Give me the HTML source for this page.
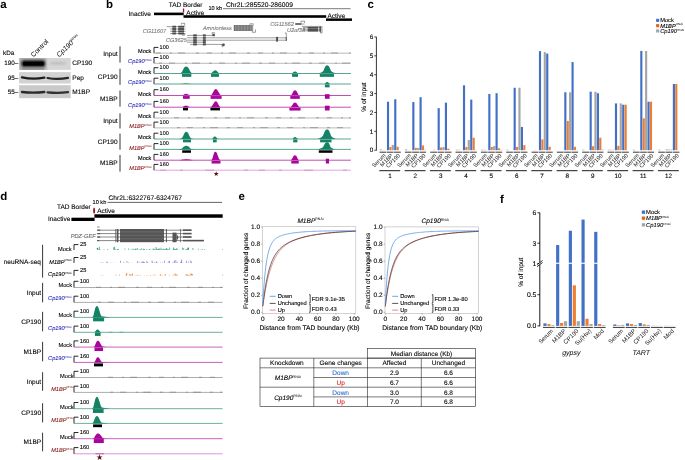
<!DOCTYPE html><html><head><meta charset="utf-8"><title>Figure</title>
<style>html,body{margin:0;padding:0;background:#fff;}svg{display:block;font-family:'Liberation Sans', Arial, sans-serif;text-rendering:geometricPrecision;will-change:transform;}text{stroke-width:.1px;}</style></head><body>
<svg width="685" height="460" viewBox="0 0 685 460">
<defs><filter id="bl" filterUnits="userSpaceOnUse" x="0" y="40" width="100" height="80"><feGaussianBlur stdDeviation="0.9"/></filter>
<filter id="bl2" filterUnits="userSpaceOnUse" x="0" y="40" width="100" height="80"><feGaussianBlur stdDeviation="0.75"/></filter>
<clipPath id="c1"><rect x="19.1" y="58" width="51.6" height="11.9"/></clipPath>
<clipPath id="c2"><rect x="19.1" y="72.1" width="51.6" height="11.4"/></clipPath>
<clipPath id="c3"><rect x="19.1" y="85.2" width="51.6" height="13"/></clipPath>
</defs>
<rect width="685" height="460" fill="#fff"/>
<g id="panelA">
<text x="0.30" y="8.00" font-size="11.50" font-weight="bold" fill="#000">a</text>
<text x="3.00" y="55.26" font-size="6.30" text-anchor="start" fill="#000" stroke="#000" >kDa</text>
<text x="18.30" y="64.86" font-size="6.30" text-anchor="end" fill="#000" stroke="#000" >190–</text>
<text x="18.30" y="80.16" font-size="6.30" text-anchor="end" fill="#000" stroke="#000" >95–</text>
<text x="18.30" y="93.86" font-size="6.30" text-anchor="end" fill="#000" stroke="#000" >55–</text>
<text x="72.30" y="65.33" font-size="6.50" text-anchor="start" fill="#000" stroke="#000" >CP190</text>
<text x="72.30" y="80.33" font-size="6.50" text-anchor="start" fill="#000" stroke="#000" >Pep</text>
<text x="72.30" y="94.03" font-size="6.50" text-anchor="start" fill="#000" stroke="#000" >M1BP</text>
<text x="33.5" y="57.5" font-size="6.75" transform="rotate(-45 33.5 57.5)">Control</text>
<text x="59.3" y="57.6" font-size="6.9" font-style="italic" transform="rotate(-45 59.3 57.6)">Cp190<tspan dy="-2.5" font-size="3.7" font-style="normal">RNAi</tspan></text>
<rect x="19.10" y="58.00" width="51.60" height="11.90" fill="#d6d6d6" />
<g clip-path="url(#c1)">
<rect x="19.10" y="57.00" width="27.40" height="14.00" fill="#aaaaaa" filter="url(#bl)"/>
<rect x="21.6" y="60.4" width="23.4" height="6.3" rx="2.2" fill="#0a0a0a" filter="url(#bl)"/>
<rect x="23" y="61.8" width="21" height="3.8" rx="1.5" fill="#000" filter="url(#bl2)"/>
<rect x="22" y="68.3" width="22" height="1.2" fill="#888" filter="url(#bl2)"/>
<ellipse cx="58" cy="63.2" rx="9" ry="1.4" fill="#bcbcbc" filter="url(#bl)"/>
</g>
<rect x="19.10" y="72.10" width="51.60" height="11.40" fill="#d2d2d2" />
<g clip-path="url(#c2)">
<path d="M22 77.3 Q33 79.6 44.3 77.6" stroke="#1c1c1c" stroke-width="2.3" fill="none" filter="url(#bl2)" stroke-linecap="round"/>
<path d="M47.5 78 Q58 79.8 68 77.8" stroke="#262626" stroke-width="2.2" fill="none" filter="url(#bl2)" stroke-linecap="round"/>
</g>
<rect x="19.10" y="85.20" width="51.60" height="13.00" fill="#cacaca" />
<g clip-path="url(#c3)">
<path d="M22 92 Q33 93.3 44.3 92" stroke="#2a2a2a" stroke-width="2.3" fill="none" filter="url(#bl2)" stroke-linecap="round"/>
<path d="M47.5 92.4 Q58 93.5 68 92.2" stroke="#303030" stroke-width="2.2" fill="none" filter="url(#bl2)" stroke-linecap="round"/>
</g>
</g>
<g id="panelB">
<text x="106.10" y="8.00" font-size="11.50" font-weight="bold" fill="#000">b</text>
<text x="168.70" y="7.03" font-size="6.50" text-anchor="start" fill="#000" stroke="#000" >TAD Border</text>
<text x="128.50" y="16.13" font-size="6.50" text-anchor="start" fill="#000" stroke="#000" >Inactive</text>
<rect x="154.00" y="12.60" width="29.70" height="2.60" fill="#000" />
<rect x="182.90" y="8.50" width="1.30" height="4.00" fill="#a8101c" />
<rect x="183.50" y="15.20" width="142.70" height="2.60" fill="#000" />
<text x="186.30" y="14.73" font-size="6.50" text-anchor="start" fill="#000" stroke="#000" >Active</text>
<text x="208.50" y="10.30" font-size="5.60" text-anchor="start" fill="#000" stroke="#000" >10 kb</text>
<line x1="223.00" y1="8.70" x2="350.60" y2="8.70" stroke="#222" stroke-width="0.60" />
<text x="226.00" y="6.60" font-size="6.70" text-anchor="start" fill="#000" stroke="#000" >Chr2L:285520-286009</text>
<text x="327.40" y="17.63" font-size="6.50" text-anchor="start" fill="#000" stroke="#000" >Active</text>
<rect x="326.00" y="18.40" width="26.00" height="2.50" fill="#000" />
<text x="166.20" y="32.50" font-size="5.60" text-anchor="end" fill="#7c7c7c" stroke="#7c7c7c" font-style="italic" >CG11607</text>
<line x1="166.60" y1="26.70" x2="185.50" y2="26.70" stroke="#4c4c4c" stroke-width="0.55" />
<rect x="172.30" y="25.75" width="3.80" height="1.90" fill="#4c4c4c" />
<rect x="178.20" y="25.75" width="5.80" height="1.90" fill="#4c4c4c" />
<line x1="170.20" y1="29.00" x2="185.50" y2="29.00" stroke="#4c4c4c" stroke-width="0.55" />
<rect x="172.30" y="28.05" width="3.80" height="1.90" fill="#4c4c4c" />
<rect x="178.20" y="28.05" width="5.80" height="1.90" fill="#4c4c4c" />
<line x1="170.20" y1="31.30" x2="185.50" y2="31.30" stroke="#4c4c4c" stroke-width="0.55" />
<rect x="172.30" y="30.35" width="3.80" height="1.90" fill="#4c4c4c" />
<rect x="178.20" y="30.35" width="5.80" height="1.90" fill="#4c4c4c" />
<line x1="170.20" y1="33.50" x2="185.50" y2="33.50" stroke="#4c4c4c" stroke-width="0.55" />
<rect x="172.30" y="32.55" width="3.80" height="1.90" fill="#4c4c4c" />
<rect x="178.20" y="32.55" width="5.80" height="1.90" fill="#4c4c4c" />
<path d="M181.5 24.6 V23.3 H184.6 V25.6" fill="none" stroke="#4c4c4c" stroke-width="0.55" />
<path d="M182.2 34.4 V35.2 H184.6 V33.8" fill="none" stroke="#4c4c4c" stroke-width="0.55" />
<text x="186.80" y="42.30" font-size="5.60" text-anchor="end" fill="#7c7c7c" stroke="#7c7c7c" font-style="italic" >CG3625</text>
<line x1="187.10" y1="35.40" x2="214.60" y2="35.40" stroke="#4c4c4c" stroke-width="0.55" />
<rect x="193.20" y="34.40" width="3.60" height="2.00" fill="#4c4c4c" />
<rect x="202.90" y="34.40" width="2.90" height="2.00" fill="#4c4c4c" />
<line x1="187.10" y1="37.80" x2="286.40" y2="37.80" stroke="#4c4c4c" stroke-width="0.55" />
<rect x="193.20" y="36.80" width="3.60" height="2.00" fill="#4c4c4c" />
<rect x="202.90" y="36.80" width="2.90" height="2.00" fill="#4c4c4c" />
<line x1="187.10" y1="40.20" x2="286.40" y2="40.20" stroke="#4c4c4c" stroke-width="0.55" />
<rect x="193.20" y="39.20" width="3.60" height="2.00" fill="#4c4c4c" />
<rect x="202.90" y="39.20" width="2.90" height="2.00" fill="#4c4c4c" />
<line x1="187.10" y1="42.20" x2="205.80" y2="42.20" stroke="#4c4c4c" stroke-width="0.55" />
<rect x="193.20" y="41.20" width="3.60" height="2.00" fill="#4c4c4c" />
<rect x="202.90" y="41.20" width="2.90" height="2.00" fill="#4c4c4c" />
<line x1="190.10" y1="44.40" x2="224.40" y2="44.40" stroke="#4c4c4c" stroke-width="0.55" />
<rect x="193.20" y="43.40" width="3.60" height="2.00" fill="#4c4c4c" />
<rect x="202.90" y="43.40" width="2.90" height="2.00" fill="#4c4c4c" />
<rect x="212.40" y="33.80" width="2.40" height="2.40" fill="#4c4c4c" />
<path d="M212 33.9 V32.7 H215" fill="none" stroke="#4c4c4c" stroke-width="0.55" />
<rect x="222.40" y="43.60" width="2.20" height="2.40" fill="#4c4c4c" />
<path d="M222 44 V46.6 H223.4" fill="none" stroke="#4c4c4c" stroke-width="0.55" />
<rect x="276.10" y="36.90" width="1.90" height="4.70" fill="#4c4c4c" />
<path d="M286.3 37.8 V33 H284.6" fill="none" stroke="#4c4c4c" stroke-width="0.55" />
<rect x="285.70" y="37.20" width="1.10" height="3.70" fill="#4c4c4c" />
<text x="231.80" y="30.10" font-size="5.60" text-anchor="end" fill="#7c7c7c" stroke="#7c7c7c" font-style="italic" >Amnionless</text>
<line x1="233.40" y1="26.00" x2="253.40" y2="26.00" stroke="#4c4c4c" stroke-width="0.55" />
<rect x="234.00" y="25.15" width="18.60" height="1.70" fill="#4c4c4c" fill-opacity="0.92"/>
<line x1="233.40" y1="28.00" x2="253.40" y2="28.00" stroke="#4c4c4c" stroke-width="0.55" />
<rect x="234.00" y="27.15" width="18.60" height="1.70" fill="#4c4c4c" fill-opacity="0.92"/>
<line x1="233.40" y1="30.00" x2="253.40" y2="30.00" stroke="#4c4c4c" stroke-width="0.55" />
<rect x="234.00" y="29.15" width="18.60" height="1.70" fill="#4c4c4c" fill-opacity="0.92"/>
<line x1="235.40" y1="25.20" x2="235.40" y2="30.80" stroke="#fff" stroke-width="0.30" />
<line x1="236.90" y1="25.20" x2="236.90" y2="30.80" stroke="#fff" stroke-width="0.30" />
<line x1="238.40" y1="25.20" x2="238.40" y2="30.80" stroke="#fff" stroke-width="0.30" />
<line x1="239.90" y1="25.20" x2="239.90" y2="30.80" stroke="#fff" stroke-width="0.30" />
<line x1="241.40" y1="25.20" x2="241.40" y2="30.80" stroke="#fff" stroke-width="0.30" />
<line x1="242.90" y1="25.20" x2="242.90" y2="30.80" stroke="#fff" stroke-width="0.30" />
<line x1="244.40" y1="25.20" x2="244.40" y2="30.80" stroke="#fff" stroke-width="0.30" />
<line x1="245.90" y1="25.20" x2="245.90" y2="30.80" stroke="#fff" stroke-width="0.30" />
<line x1="247.40" y1="25.20" x2="247.40" y2="30.80" stroke="#fff" stroke-width="0.30" />
<line x1="248.90" y1="25.20" x2="248.90" y2="30.80" stroke="#fff" stroke-width="0.30" />
<line x1="250.40" y1="25.20" x2="250.40" y2="30.80" stroke="#fff" stroke-width="0.30" />
<line x1="251.90" y1="25.20" x2="251.90" y2="30.80" stroke="#fff" stroke-width="0.30" />
<path d="M249.9 24.9 V23.8 H253.2 V25.4" fill="none" stroke="#4c4c4c" stroke-width="0.55" />
<path d="M252.4 31 V32.3 H255.4 V29.4" fill="none" stroke="#4c4c4c" stroke-width="0.55" />
<text x="293.80" y="26.10" font-size="5.60" text-anchor="end" fill="#7c7c7c" stroke="#7c7c7c" font-style="italic" >CG11562</text>
<line x1="295.30" y1="24.00" x2="304.50" y2="24.00" stroke="#4c4c4c" stroke-width="0.55" />
<rect x="295.30" y="23.30" width="6.00" height="1.40" fill="#4c4c4c" />
<path d="M301 22.9 V21.2 H304.6 V23" fill="none" stroke="#4c4c4c" stroke-width="0.55" />
<text x="305.00" y="32.10" font-size="5.60" text-anchor="end" fill="#7c7c7c" stroke="#7c7c7c" font-style="italic" >U2af38</text>
<line x1="303.00" y1="27.60" x2="321.40" y2="27.60" stroke="#4c4c4c" stroke-width="0.55" />
<rect x="307.70" y="26.85" width="10.40" height="1.50" fill="#4c4c4c" />
<rect x="319.40" y="26.85" width="1.60" height="1.50" fill="#4c4c4c" />
<line x1="303.00" y1="29.20" x2="321.40" y2="29.20" stroke="#4c4c4c" stroke-width="0.55" />
<rect x="307.70" y="28.45" width="10.40" height="1.50" fill="#4c4c4c" />
<rect x="319.40" y="28.45" width="1.60" height="1.50" fill="#4c4c4c" />
<line x1="303.00" y1="30.80" x2="321.40" y2="30.80" stroke="#4c4c4c" stroke-width="0.55" />
<rect x="307.70" y="30.05" width="10.40" height="1.50" fill="#4c4c4c" />
<rect x="319.40" y="30.05" width="1.60" height="1.50" fill="#4c4c4c" />
<line x1="301.80" y1="26.40" x2="321.40" y2="26.40" stroke="#4c4c4c" stroke-width="0.55" />
<path d="M320.4 26.2 V33 H322 V26.2" fill="none" stroke="#4c4c4c" stroke-width="0.55" />
<path d="M154.00 53.20 V47.40 H158.40" fill="none" stroke="#000" stroke-width="0.85" />
<text x="159.60" y="48.97" font-size="5.50" text-anchor="start" fill="#000" stroke="#000" >100</text>
<text x="151.40" y="53.20" font-size="5.60" text-anchor="end" fill="#000" stroke="#000" >Mock</text>
<line x1="154.00" y1="53.20" x2="350.90" y2="53.20" stroke="#777" stroke-width="0.60" stroke-opacity="0.85"/>
<line x1="156.00" y1="52.95" x2="350.90" y2="52.95" stroke="#666" stroke-width="0.50" stroke-dasharray="5 9 2 6 7 11 3 8"/>
<path d="M154.00 63.30 V57.50 H158.40" fill="none" stroke="#000" stroke-width="0.85" />
<text x="159.60" y="59.07" font-size="5.50" text-anchor="start" fill="#000" stroke="#000" >100</text>
<text x="151.60" y="63.40" font-size="5.60" text-anchor="end" fill="#2a2ab8" stroke="#2a2ab8" font-style="italic" >Cp190<tspan dy="-2.02" font-size="3.00" font-style="normal" stroke="none">RNAi</tspan></text>
<line x1="154.00" y1="63.30" x2="350.90" y2="63.30" stroke="#777" stroke-width="0.60" stroke-opacity="0.85"/>
<line x1="159.00" y1="63.05" x2="350.90" y2="63.05" stroke="#666" stroke-width="0.50" stroke-dasharray="3 7 6 10 2 5 8 9"/>
<path d="M154.00 73.50 V67.70 H158.40" fill="none" stroke="#000" stroke-width="0.85" />
<text x="159.60" y="69.27" font-size="5.50" text-anchor="start" fill="#000" stroke="#000" >100</text>
<text x="151.40" y="73.50" font-size="5.60" text-anchor="end" fill="#000" stroke="#000" >Mock</text>
<line x1="154.00" y1="73.50" x2="350.90" y2="73.50" stroke="#148264" stroke-width="0.75" stroke-opacity="0.95"/>
<path d="M154.00 84.00 V78.20 H158.40" fill="none" stroke="#000" stroke-width="0.85" />
<text x="159.60" y="79.77" font-size="5.50" text-anchor="start" fill="#000" stroke="#000" >100</text>
<text x="151.60" y="84.10" font-size="5.60" text-anchor="end" fill="#2a2ab8" stroke="#2a2ab8" font-style="italic" >Cp190<tspan dy="-2.02" font-size="3.00" font-style="normal" stroke="none">RNAi</tspan></text>
<line x1="154.00" y1="84.00" x2="350.90" y2="84.00" stroke="#148264" stroke-width="0.75" stroke-opacity="0.95"/>
<path d="M154.00 95.50 V89.70 H158.40" fill="none" stroke="#000" stroke-width="0.85" />
<text x="159.60" y="91.27" font-size="5.50" text-anchor="start" fill="#000" stroke="#000" >160</text>
<text x="151.40" y="95.50" font-size="5.60" text-anchor="end" fill="#000" stroke="#000" >Mock</text>
<line x1="154.00" y1="95.50" x2="350.90" y2="95.50" stroke="#a8059a" stroke-width="0.75" stroke-opacity="0.95"/>
<path d="M154.00 107.20 V101.40 H158.40" fill="none" stroke="#000" stroke-width="0.85" />
<text x="159.60" y="102.97" font-size="5.50" text-anchor="start" fill="#000" stroke="#000" >160</text>
<text x="151.60" y="107.30" font-size="5.60" text-anchor="end" fill="#2a2ab8" stroke="#2a2ab8" font-style="italic" >Cp190<tspan dy="-2.02" font-size="3.00" font-style="normal" stroke="none">RNAi</tspan></text>
<line x1="154.00" y1="107.20" x2="350.90" y2="107.20" stroke="#a8059a" stroke-width="0.75" stroke-opacity="0.95"/>
<path d="M154.00 118.00 V112.20 H158.40" fill="none" stroke="#000" stroke-width="0.85" />
<text x="159.60" y="113.77" font-size="5.50" text-anchor="start" fill="#000" stroke="#000" >100</text>
<text x="151.40" y="118.00" font-size="5.60" text-anchor="end" fill="#000" stroke="#000" >Mock</text>
<line x1="154.00" y1="118.00" x2="350.90" y2="118.00" stroke="#777" stroke-width="0.60" stroke-opacity="0.85"/>
<line x1="174.00" y1="117.75" x2="350.90" y2="117.75" stroke="#666" stroke-width="0.50" stroke-dasharray="5 9 2 6 7 11 3 8"/>
<path d="M154.00 127.90 V122.10 H158.40" fill="none" stroke="#000" stroke-width="0.85" />
<text x="159.60" y="123.67" font-size="5.50" text-anchor="start" fill="#000" stroke="#000" >100</text>
<text x="151.60" y="128.00" font-size="5.60" text-anchor="end" fill="#8a1a1a" stroke="#8a1a1a" font-style="italic" >M1BP<tspan dy="-2.02" font-size="3.00" font-style="normal" stroke="none">RNAi</tspan></text>
<line x1="154.00" y1="127.90" x2="350.90" y2="127.90" stroke="#777" stroke-width="0.60" stroke-opacity="0.85"/>
<line x1="177.00" y1="127.65" x2="350.90" y2="127.65" stroke="#666" stroke-width="0.50" stroke-dasharray="3 7 6 10 2 5 8 9"/>
<path d="M154.00 139.00 V133.20 H158.40" fill="none" stroke="#000" stroke-width="0.85" />
<text x="159.60" y="134.77" font-size="5.50" text-anchor="start" fill="#000" stroke="#000" >100</text>
<text x="151.40" y="139.00" font-size="5.60" text-anchor="end" fill="#000" stroke="#000" >Mock</text>
<line x1="154.00" y1="139.00" x2="350.90" y2="139.00" stroke="#148264" stroke-width="0.75" stroke-opacity="0.95"/>
<path d="M154.00 149.40 V143.60 H158.40" fill="none" stroke="#000" stroke-width="0.85" />
<text x="159.60" y="145.17" font-size="5.50" text-anchor="start" fill="#000" stroke="#000" >100</text>
<text x="151.60" y="149.50" font-size="5.60" text-anchor="end" fill="#8a1a1a" stroke="#8a1a1a" font-style="italic" >M1BP<tspan dy="-2.02" font-size="3.00" font-style="normal" stroke="none">RNAi</tspan></text>
<line x1="154.00" y1="149.40" x2="350.90" y2="149.40" stroke="#148264" stroke-width="0.75" stroke-opacity="0.95"/>
<path d="M154.00 160.20 V154.40 H158.40" fill="none" stroke="#000" stroke-width="0.85" />
<text x="159.60" y="155.97" font-size="5.50" text-anchor="start" fill="#000" stroke="#000" >160</text>
<text x="151.40" y="160.20" font-size="5.60" text-anchor="end" fill="#000" stroke="#000" >Mock</text>
<line x1="154.00" y1="160.20" x2="350.90" y2="160.20" stroke="#a8059a" stroke-width="0.75" stroke-opacity="0.95"/>
<path d="M154.00 170.20 V164.40 H158.40" fill="none" stroke="#000" stroke-width="0.85" />
<text x="159.60" y="165.97" font-size="5.50" text-anchor="start" fill="#000" stroke="#000" >160</text>
<text x="151.60" y="170.30" font-size="5.60" text-anchor="end" fill="#8a1a1a" stroke="#8a1a1a" font-style="italic" >M1BP<tspan dy="-2.02" font-size="3.00" font-style="normal" stroke="none">RNAi</tspan></text>
<line x1="154.00" y1="170.20" x2="350.90" y2="170.20" stroke="#a8059a" stroke-width="0.60" stroke-opacity="0.6"/>
<line x1="160.00" y1="170.10" x2="350.90" y2="170.10" stroke="#a8059a" stroke-width="0.50" stroke-opacity="0.55" stroke-dasharray="6 14 3 22 9 30 4 11"/>
<line x1="120.00" y1="46.30" x2="120.00" y2="62.60" stroke="#000" stroke-width="0.80" />
<text x="117.60" y="56.48" font-size="6.50" text-anchor="end" fill="#000" stroke="#000" >Input</text>
<line x1="120.00" y1="68.70" x2="120.00" y2="84.80" stroke="#000" stroke-width="0.80" />
<text x="117.60" y="78.78" font-size="6.50" text-anchor="end" fill="#000" stroke="#000" >CP190</text>
<line x1="120.00" y1="90.50" x2="120.00" y2="106.60" stroke="#000" stroke-width="0.80" />
<text x="117.60" y="100.58" font-size="6.50" text-anchor="end" fill="#000" stroke="#000" >M1BP</text>
<line x1="120.00" y1="113.30" x2="120.00" y2="128.50" stroke="#000" stroke-width="0.80" />
<text x="117.60" y="122.93" font-size="6.50" text-anchor="end" fill="#000" stroke="#000" >Input</text>
<line x1="120.00" y1="133.60" x2="120.00" y2="149.70" stroke="#000" stroke-width="0.80" />
<text x="117.60" y="143.68" font-size="6.50" text-anchor="end" fill="#000" stroke="#000" >CP190</text>
<line x1="120.00" y1="155.00" x2="120.00" y2="171.60" stroke="#000" stroke-width="0.80" />
<text x="117.60" y="165.33" font-size="6.50" text-anchor="end" fill="#000" stroke="#000" >M1BP</text>
<path d="M180.00 73.50 L180.91 73.07 L181.95 71.94 L182.93 69.95 L183.90 67.96 L185.12 66.68 L186.10 66.40 L187.16 66.68 L188.48 67.96 L189.53 69.95 L190.59 71.94 L191.71 73.07 L192.70 73.50Z" fill="#148264" stroke="none" stroke-width="0.60" />
<rect x="182.00" y="73.85" width="9.30" height="3.00" fill="#148264" />
<line x1="182.00" y1="73.75" x2="191.30" y2="73.75" stroke="#fff" stroke-width="0.35" stroke-opacity="0.55"/>
<path d="M210.00 73.50 Q210.94 73.50 211.46 73.10 L213.90 70.73 Q215.20 70.00 216.50 70.73 L218.80 73.10 Q219.30 73.50 220.20 73.50 Z" fill="#148264" stroke="none" stroke-width="0.60" />
<rect x="211.00" y="73.85" width="8.00" height="3.00" fill="#148264" />
<line x1="211.00" y1="73.75" x2="219.00" y2="73.75" stroke="#fff" stroke-width="0.35" stroke-opacity="0.55"/>
<path d="M291.00 73.50 Q291.72 73.50 292.12 73.24 L293.80 71.65 Q295.00 71.17 296.20 71.65 L297.88 73.24 Q298.28 73.50 299.00 73.50 Z" fill="#148264" stroke="none" stroke-width="0.60" />
<rect x="292.00" y="73.85" width="6.00" height="3.00" fill="#148264" />
<line x1="292.00" y1="73.75" x2="298.00" y2="73.75" stroke="#fff" stroke-width="0.35" stroke-opacity="0.55"/>
<path d="M318.60 73.50 L320.47 72.84 L322.17 72.02 L323.36 71.04 L324.21 68.74 L325.40 66.28 L326.42 65.46 L327.10 65.30 L327.81 65.46 L328.88 66.28 L330.13 68.74 L331.02 71.04 L332.26 72.02 L334.04 72.84 L336.00 73.50Z" fill="#148264" stroke="none" stroke-width="0.60" />
<rect x="319.80" y="73.85" width="14.20" height="3.00" fill="#148264" />
<line x1="319.80" y1="73.75" x2="334.00" y2="73.75" stroke="#fff" stroke-width="0.35" stroke-opacity="0.55"/>
<path d="M324.00 84.00 Q324.58 84.00 324.90 83.76 L326.24 82.32 Q327.20 81.88 328.16 82.32 L329.50 83.76 Q329.82 84.00 330.40 84.00 Z" fill="#148264" stroke="none" stroke-width="0.60" />
<rect x="324.90" y="84.35" width="4.70" height="3.00" fill="#148264" />
<line x1="324.90" y1="84.25" x2="329.60" y2="84.25" stroke="#fff" stroke-width="0.35" stroke-opacity="0.55"/>
<path d="M180 84.00 Q186 83.00 192 84.00Z" fill="#148264" stroke="none" stroke-width="0.60" />
<path d="M181.50 95.50 Q182.31 95.50 182.76 95.27 L184.70 93.90 Q186.00 93.49 187.30 93.90 L189.60 95.27 Q190.10 95.50 191.00 95.50 Z" fill="#a8059a" stroke="none" stroke-width="0.60" />
<rect x="183.00" y="95.85" width="6.70" height="3.00" fill="#a8059a" />
<line x1="183.00" y1="95.75" x2="189.70" y2="95.75" stroke="#fff" stroke-width="0.35" stroke-opacity="0.55"/>
<path d="M210.00 95.50 Q211.04 95.50 211.62 94.67 L214.50 89.70 Q215.80 88.19 217.10 89.70 L220.26 94.67 Q220.88 95.50 222.00 95.50 Z" fill="#a8059a" stroke="none" stroke-width="0.60" />
<rect x="210.60" y="95.85" width="11.00" height="3.00" fill="#a8059a" />
<line x1="210.60" y1="95.75" x2="221.60" y2="95.75" stroke="#fff" stroke-width="0.35" stroke-opacity="0.55"/>
<path d="M290.30 95.50 Q291.15 95.50 291.62 94.83 L293.70 90.80 Q295.00 89.56 296.30 90.80 L298.46 94.83 Q298.94 95.50 299.80 95.50 Z" fill="#a8059a" stroke="none" stroke-width="0.60" />
<rect x="290.30" y="95.85" width="9.50" height="3.00" fill="#a8059a" />
<line x1="290.30" y1="95.75" x2="299.80" y2="95.75" stroke="#fff" stroke-width="0.35" stroke-opacity="0.55"/>
<rect x="324.90" y="94.20" width="4.70" height="4.60" fill="#a8059a" />
<path d="M181.50 107.20 Q182.31 107.20 182.76 107.01 L184.70 105.86 Q186.00 105.50 187.30 105.86 L189.24 107.01 Q189.69 107.20 190.50 107.20 Z" fill="#a8059a" stroke="none" stroke-width="0.60" />
<rect x="183.00" y="107.80" width="5.00" height="2.60" fill="#000" />
<path d="M210.00 107.20 Q211.04 107.20 211.62 106.46 L214.50 101.99 Q215.80 100.63 217.10 101.99 L219.54 106.46 Q220.06 107.20 221.00 107.20 Z" fill="#a8059a" stroke="none" stroke-width="0.60" />
<rect x="210.40" y="107.80" width="9.60" height="2.60" fill="#000" />
<path d="M289.80 107.20 Q290.74 107.20 291.26 106.61 L293.70 103.08 Q295.00 102.01 296.30 103.08 L298.74 106.61 Q299.26 107.20 300.20 107.20 Z" fill="#a8059a" stroke="none" stroke-width="0.60" />
<rect x="289.40" y="107.55" width="11.20" height="3.00" fill="#a8059a" />
<line x1="289.40" y1="107.45" x2="300.60" y2="107.45" stroke="#fff" stroke-width="0.35" stroke-opacity="0.55"/>
<rect x="324.90" y="105.70" width="4.70" height="4.80" fill="#a8059a" />
<path d="M179.00 139.00 L180.46 138.71 L181.77 138.14 L182.65 136.98 L183.38 135.40 L184.26 133.38 L185.42 132.09 L186.30 131.80 L187.18 132.09 L188.34 133.38 L189.22 135.40 L189.95 136.98 L190.83 138.14 L192.14 138.71 L193.60 139.00Z" fill="#148264" stroke="none" stroke-width="0.60" />
<rect x="183.00" y="139.35" width="8.00" height="3.00" fill="#148264" />
<line x1="183.00" y1="139.25" x2="191.00" y2="139.25" stroke="#fff" stroke-width="0.35" stroke-opacity="0.55"/>
<path d="M211.60 139.00 Q212.18 139.00 212.50 138.69 L213.84 136.82 Q214.80 136.24 215.76 136.82 L217.54 138.69 Q217.92 139.00 218.60 139.00 Z" fill="#148264" stroke="none" stroke-width="0.60" />
<rect x="213.00" y="139.35" width="3.70" height="3.00" fill="#148264" />
<line x1="213.00" y1="139.25" x2="216.70" y2="139.25" stroke="#fff" stroke-width="0.35" stroke-opacity="0.55"/>
<path d="M292.00 139.00 Q292.54 139.00 292.84 138.74 L294.10 137.15 Q295.00 136.67 295.90 137.15 L297.52 138.74 Q297.87 139.00 298.50 139.00 Z" fill="#148264" stroke="none" stroke-width="0.60" />
<rect x="293.20" y="139.35" width="4.20" height="3.00" fill="#148264" />
<line x1="293.20" y1="139.25" x2="297.40" y2="139.25" stroke="#fff" stroke-width="0.35" stroke-opacity="0.55"/>
<path d="M317.30 139.00 L319.48 138.23 L321.46 137.27 L322.84 136.12 L323.83 133.43 L325.22 130.55 L326.41 129.59 L327.20 129.40 L327.90 129.59 L328.96 130.55 L330.19 133.43 L331.07 136.12 L332.30 137.27 L334.06 138.23 L336.00 139.00Z" fill="#148264" stroke="none" stroke-width="0.60" />
<rect x="320.10" y="139.35" width="11.40" height="3.00" fill="#148264" />
<line x1="320.10" y1="139.25" x2="331.50" y2="139.25" stroke="#fff" stroke-width="0.35" stroke-opacity="0.55"/>
<path d="M177.80 149.40 L179.50 149.26 L181.03 148.97 L182.05 148.39 L182.90 147.60 L183.92 146.59 L185.28 145.94 L186.30 145.80 L187.27 145.94 L188.57 146.59 L189.54 147.60 L190.35 148.39 L191.32 148.97 L192.78 149.26 L194.40 149.40Z" fill="#148264" stroke="none" stroke-width="0.60" />
<rect x="182.20" y="150.30" width="8.80" height="2.50" fill="#000" />
<path d="M317.60 149.40 L319.71 148.82 L321.63 148.10 L322.98 147.24 L323.94 145.22 L325.28 143.06 L326.43 142.34 L327.20 142.20 L327.82 142.34 L328.76 143.06 L329.85 145.22 L330.63 147.24 L331.72 148.10 L333.28 148.82 L335.00 149.40Z" fill="#148264" stroke="none" stroke-width="0.60" />
<rect x="318.80" y="150.30" width="13.70" height="2.50" fill="#000" />
<path d="M179.6 160.20 Q186.3 158.20 193 160.20Z" fill="#a8059a" stroke="none" stroke-width="0.60" />
<path d="M211.00 160.20 Q211.79 160.20 212.23 159.12 L214.10 152.64 Q215.40 150.66 216.70 152.64 L219.07 159.12 Q219.58 160.20 220.50 160.20 Z" fill="#a8059a" stroke="none" stroke-width="0.60" />
<rect x="211.60" y="160.55" width="8.90" height="3.00" fill="#a8059a" />
<line x1="211.60" y1="160.45" x2="220.50" y2="160.45" stroke="#fff" stroke-width="0.35" stroke-opacity="0.55"/>
<path d="M290.30 160.20 Q291.15 160.20 291.62 159.58 L293.70 155.83 Q295.00 154.69 296.30 155.83 L298.10 159.58 Q298.53 160.20 299.30 160.20 Z" fill="#a8059a" stroke="none" stroke-width="0.60" />
<rect x="291.30" y="160.55" width="7.40" height="3.00" fill="#a8059a" />
<line x1="291.30" y1="160.45" x2="298.70" y2="160.45" stroke="#fff" stroke-width="0.35" stroke-opacity="0.55"/>
<rect x="325.80" y="158.70" width="3.20" height="4.80" fill="#a8059a" />
<text x="216.25" y="176.1" font-size="6.6" text-anchor="middle" fill="#5a1010" font-family="DejaVu Sans, sans-serif">★</text>
</g>
<g id="panelC">
<text x="367.40" y="8.00" font-size="11.50" font-weight="bold" fill="#000">c</text>
<line x1="376.40" y1="36.80" x2="376.40" y2="150.55" stroke="#000" stroke-width="0.80" />
<line x1="374.20" y1="150.20" x2="376.40" y2="150.20" stroke="#000" stroke-width="0.70" />
<text x="373.40" y="152.49" font-size="6.40" text-anchor="end" fill="#000" stroke="#000" >0</text>
<line x1="374.20" y1="131.33" x2="376.40" y2="131.33" stroke="#000" stroke-width="0.70" />
<text x="373.40" y="133.62" font-size="6.40" text-anchor="end" fill="#000" stroke="#000" >1</text>
<line x1="374.20" y1="112.46" x2="376.40" y2="112.46" stroke="#000" stroke-width="0.70" />
<text x="373.40" y="114.75" font-size="6.40" text-anchor="end" fill="#000" stroke="#000" >2</text>
<line x1="374.20" y1="93.59" x2="376.40" y2="93.59" stroke="#000" stroke-width="0.70" />
<text x="373.40" y="95.88" font-size="6.40" text-anchor="end" fill="#000" stroke="#000" >3</text>
<line x1="374.20" y1="74.72" x2="376.40" y2="74.72" stroke="#000" stroke-width="0.70" />
<text x="373.40" y="77.01" font-size="6.40" text-anchor="end" fill="#000" stroke="#000" >4</text>
<line x1="374.20" y1="55.85" x2="376.40" y2="55.85" stroke="#000" stroke-width="0.70" />
<text x="373.40" y="58.14" font-size="6.40" text-anchor="end" fill="#000" stroke="#000" >5</text>
<line x1="374.20" y1="36.98" x2="376.40" y2="36.98" stroke="#000" stroke-width="0.70" />
<text x="373.40" y="39.27" font-size="6.40" text-anchor="end" fill="#000" stroke="#000" >6</text>
<text x="363.50" y="99.36" font-size="6.60" text-anchor="middle" fill="#000" stroke="#000" transform="rotate(-90 363.50 97.00)" >% of input</text>
<rect x="379.70" y="149.63" width="2.15" height="0.57" fill="#4270c6" />
<rect x="382.10" y="150.01" width="2.15" height="0.19" fill="#ed7d31" />
<line x1="379.60" y1="152.20" x2="386.30" y2="152.20" stroke="#000" stroke-width="0.80" />
<text x="383.30" y="157.10" font-size="5.7" stroke="none" fill="#1a1a1a" text-anchor="end" transform="rotate(-45 383.30 153.20)">Serum</text>
<rect x="386.95" y="101.70" width="2.15" height="48.50" fill="#4270c6" />
<rect x="389.35" y="146.99" width="2.15" height="3.21" fill="#ed7d31" />
<rect x="391.75" y="144.92" width="2.15" height="5.28" fill="#a5a5a5" />
<line x1="386.85" y1="152.20" x2="393.55" y2="152.20" stroke="#000" stroke-width="0.80" />
<text x="390.55" y="157.10" font-size="5.7" stroke="none" fill="#1a1a1a" text-anchor="end" transform="rotate(-45 390.55 153.20)">M1BP</text>
<rect x="394.20" y="99.25" width="2.15" height="50.95" fill="#4270c6" />
<rect x="396.60" y="146.80" width="2.15" height="3.40" fill="#ed7d31" />
<line x1="394.10" y1="152.20" x2="400.80" y2="152.20" stroke="#000" stroke-width="0.80" />
<text x="397.80" y="157.10" font-size="5.7" stroke="none" fill="#1a1a1a" text-anchor="end" transform="rotate(-45 397.80 153.20)">CP190</text>
<line x1="379.30" y1="170.70" x2="400.20" y2="170.70" stroke="#000" stroke-width="0.90" />
<text x="390.00" y="177.86" font-size="6.30" text-anchor="middle" fill="#000" stroke="#000" >1</text>
<rect x="405.03" y="149.63" width="2.15" height="0.57" fill="#4270c6" />
<rect x="407.43" y="150.01" width="2.15" height="0.19" fill="#ed7d31" />
<line x1="404.93" y1="152.20" x2="411.63" y2="152.20" stroke="#000" stroke-width="0.80" />
<text x="408.63" y="157.10" font-size="5.7" stroke="none" fill="#1a1a1a" text-anchor="end" transform="rotate(-45 408.63 153.20)">Serum</text>
<rect x="412.28" y="102.08" width="2.15" height="48.12" fill="#4270c6" />
<rect x="414.68" y="147.75" width="2.15" height="2.45" fill="#ed7d31" />
<rect x="417.08" y="147.94" width="2.15" height="2.26" fill="#a5a5a5" />
<line x1="412.18" y1="152.20" x2="418.88" y2="152.20" stroke="#000" stroke-width="0.80" />
<text x="415.88" y="157.10" font-size="5.7" stroke="none" fill="#1a1a1a" text-anchor="end" transform="rotate(-45 415.88 153.20)">M1BP</text>
<rect x="419.53" y="97.18" width="2.15" height="53.02" fill="#4270c6" />
<rect x="421.93" y="145.48" width="2.15" height="4.72" fill="#ed7d31" />
<rect x="424.33" y="149.82" width="2.15" height="0.38" fill="#a5a5a5" />
<line x1="419.43" y1="152.20" x2="426.13" y2="152.20" stroke="#000" stroke-width="0.80" />
<text x="423.13" y="157.10" font-size="5.7" stroke="none" fill="#1a1a1a" text-anchor="end" transform="rotate(-45 423.13 153.20)">CP190</text>
<line x1="404.63" y1="170.70" x2="425.53" y2="170.70" stroke="#000" stroke-width="0.90" />
<text x="415.33" y="177.86" font-size="6.30" text-anchor="middle" fill="#000" stroke="#000" >2</text>
<rect x="432.76" y="149.82" width="2.15" height="0.38" fill="#ed7d31" />
<line x1="430.26" y1="152.20" x2="436.96" y2="152.20" stroke="#000" stroke-width="0.80" />
<text x="433.96" y="157.10" font-size="5.7" stroke="none" fill="#1a1a1a" text-anchor="end" transform="rotate(-45 433.96 153.20)">Serum</text>
<rect x="437.61" y="108.12" width="2.15" height="42.08" fill="#4270c6" />
<rect x="440.01" y="147.56" width="2.15" height="2.64" fill="#ed7d31" />
<rect x="442.41" y="146.99" width="2.15" height="3.21" fill="#a5a5a5" />
<line x1="437.51" y1="152.20" x2="444.21" y2="152.20" stroke="#000" stroke-width="0.80" />
<text x="441.21" y="157.10" font-size="5.7" stroke="none" fill="#1a1a1a" text-anchor="end" transform="rotate(-45 441.21 153.20)">M1BP</text>
<rect x="444.86" y="102.65" width="2.15" height="47.55" fill="#4270c6" />
<rect x="447.26" y="148.69" width="2.15" height="1.51" fill="#ed7d31" />
<line x1="444.76" y1="152.20" x2="451.46" y2="152.20" stroke="#000" stroke-width="0.80" />
<text x="448.46" y="157.10" font-size="5.7" stroke="none" fill="#1a1a1a" text-anchor="end" transform="rotate(-45 448.46 153.20)">CP190</text>
<line x1="429.96" y1="170.70" x2="450.86" y2="170.70" stroke="#000" stroke-width="0.90" />
<text x="440.66" y="177.86" font-size="6.30" text-anchor="middle" fill="#000" stroke="#000" >3</text>
<rect x="455.69" y="149.82" width="2.15" height="0.38" fill="#4270c6" />
<rect x="458.09" y="149.82" width="2.15" height="0.38" fill="#ed7d31" />
<line x1="455.59" y1="152.20" x2="462.29" y2="152.20" stroke="#000" stroke-width="0.80" />
<text x="459.29" y="157.10" font-size="5.7" stroke="none" fill="#1a1a1a" text-anchor="end" transform="rotate(-45 459.29 153.20)">Serum</text>
<rect x="462.94" y="85.29" width="2.15" height="64.91" fill="#4270c6" />
<rect x="465.34" y="146.99" width="2.15" height="3.21" fill="#ed7d31" />
<rect x="467.74" y="140.01" width="2.15" height="10.19" fill="#a5a5a5" />
<line x1="462.84" y1="152.20" x2="469.54" y2="152.20" stroke="#000" stroke-width="0.80" />
<text x="466.54" y="157.10" font-size="5.7" stroke="none" fill="#1a1a1a" text-anchor="end" transform="rotate(-45 466.54 153.20)">M1BP</text>
<rect x="470.19" y="99.63" width="2.15" height="50.57" fill="#4270c6" />
<rect x="472.59" y="137.75" width="2.15" height="12.45" fill="#ed7d31" />
<rect x="474.99" y="150.01" width="2.15" height="0.19" fill="#a5a5a5" />
<line x1="470.09" y1="152.20" x2="476.79" y2="152.20" stroke="#000" stroke-width="0.80" />
<text x="473.79" y="157.10" font-size="5.7" stroke="none" fill="#1a1a1a" text-anchor="end" transform="rotate(-45 473.79 153.20)">CP190</text>
<line x1="455.29" y1="170.70" x2="476.19" y2="170.70" stroke="#000" stroke-width="0.90" />
<text x="465.99" y="177.86" font-size="6.30" text-anchor="middle" fill="#000" stroke="#000" >4</text>
<rect x="481.02" y="149.82" width="2.15" height="0.38" fill="#4270c6" />
<rect x="483.42" y="149.82" width="2.15" height="0.38" fill="#ed7d31" />
<rect x="485.82" y="150.01" width="2.15" height="0.19" fill="#a5a5a5" />
<line x1="480.92" y1="152.20" x2="487.62" y2="152.20" stroke="#000" stroke-width="0.80" />
<text x="484.62" y="157.10" font-size="5.7" stroke="none" fill="#1a1a1a" text-anchor="end" transform="rotate(-45 484.62 153.20)">Serum</text>
<rect x="488.27" y="93.97" width="2.15" height="56.23" fill="#4270c6" />
<rect x="490.67" y="146.99" width="2.15" height="3.21" fill="#ed7d31" />
<rect x="493.07" y="146.05" width="2.15" height="4.15" fill="#a5a5a5" />
<line x1="488.17" y1="152.20" x2="494.87" y2="152.20" stroke="#000" stroke-width="0.80" />
<text x="491.87" y="157.10" font-size="5.7" stroke="none" fill="#1a1a1a" text-anchor="end" transform="rotate(-45 491.87 153.20)">M1BP</text>
<rect x="495.52" y="93.21" width="2.15" height="56.99" fill="#4270c6" />
<rect x="497.92" y="148.31" width="2.15" height="1.89" fill="#ed7d31" />
<rect x="500.32" y="149.82" width="2.15" height="0.38" fill="#a5a5a5" />
<line x1="495.42" y1="152.20" x2="502.12" y2="152.20" stroke="#000" stroke-width="0.80" />
<text x="499.12" y="157.10" font-size="5.7" stroke="none" fill="#1a1a1a" text-anchor="end" transform="rotate(-45 499.12 153.20)">CP190</text>
<line x1="480.62" y1="170.70" x2="501.52" y2="170.70" stroke="#000" stroke-width="0.90" />
<text x="491.32" y="177.86" font-size="6.30" text-anchor="middle" fill="#000" stroke="#000" >5</text>
<rect x="506.35" y="149.82" width="2.15" height="0.38" fill="#4270c6" />
<line x1="506.25" y1="152.20" x2="512.95" y2="152.20" stroke="#000" stroke-width="0.80" />
<text x="509.95" y="157.10" font-size="5.7" stroke="none" fill="#1a1a1a" text-anchor="end" transform="rotate(-45 509.95 153.20)">Serum</text>
<rect x="513.60" y="87.74" width="2.15" height="62.46" fill="#4270c6" />
<rect x="516.00" y="146.99" width="2.15" height="3.21" fill="#ed7d31" />
<rect x="518.40" y="87.74" width="2.15" height="62.46" fill="#a5a5a5" />
<line x1="513.50" y1="152.20" x2="520.20" y2="152.20" stroke="#000" stroke-width="0.80" />
<text x="517.20" y="157.10" font-size="5.7" stroke="none" fill="#1a1a1a" text-anchor="end" transform="rotate(-45 517.20 153.20)">M1BP</text>
<rect x="520.85" y="126.99" width="2.15" height="23.21" fill="#4270c6" />
<rect x="523.25" y="145.11" width="2.15" height="5.09" fill="#ed7d31" />
<line x1="520.75" y1="152.20" x2="527.45" y2="152.20" stroke="#000" stroke-width="0.80" />
<text x="524.45" y="157.10" font-size="5.7" stroke="none" fill="#1a1a1a" text-anchor="end" transform="rotate(-45 524.45 153.20)">CP190</text>
<line x1="505.95" y1="170.70" x2="526.85" y2="170.70" stroke="#000" stroke-width="0.90" />
<text x="516.65" y="177.86" font-size="6.30" text-anchor="middle" fill="#000" stroke="#000" >6</text>
<rect x="534.08" y="150.01" width="2.15" height="0.19" fill="#ed7d31" />
<line x1="531.58" y1="152.20" x2="538.28" y2="152.20" stroke="#000" stroke-width="0.80" />
<text x="535.28" y="157.10" font-size="5.7" stroke="none" fill="#1a1a1a" text-anchor="end" transform="rotate(-45 535.28 153.20)">Serum</text>
<rect x="538.93" y="51.13" width="2.15" height="99.07" fill="#4270c6" />
<rect x="541.33" y="139.44" width="2.15" height="10.76" fill="#ed7d31" />
<rect x="543.73" y="52.08" width="2.15" height="98.12" fill="#a5a5a5" />
<line x1="538.83" y1="152.20" x2="545.53" y2="152.20" stroke="#000" stroke-width="0.80" />
<text x="542.53" y="157.10" font-size="5.7" stroke="none" fill="#1a1a1a" text-anchor="end" transform="rotate(-45 542.53 153.20)">M1BP</text>
<rect x="546.18" y="53.59" width="2.15" height="96.61" fill="#4270c6" />
<rect x="548.58" y="146.80" width="2.15" height="3.40" fill="#ed7d31" />
<line x1="546.08" y1="152.20" x2="552.78" y2="152.20" stroke="#000" stroke-width="0.80" />
<text x="549.78" y="157.10" font-size="5.7" stroke="none" fill="#1a1a1a" text-anchor="end" transform="rotate(-45 549.78 153.20)">CP190</text>
<line x1="531.28" y1="170.70" x2="552.18" y2="170.70" stroke="#000" stroke-width="0.90" />
<text x="541.98" y="177.86" font-size="6.30" text-anchor="middle" fill="#000" stroke="#000" >7</text>
<line x1="556.91" y1="152.20" x2="563.61" y2="152.20" stroke="#000" stroke-width="0.80" />
<text x="560.61" y="157.10" font-size="5.7" stroke="none" fill="#1a1a1a" text-anchor="end" transform="rotate(-45 560.61 153.20)">Serum</text>
<rect x="564.26" y="92.27" width="2.15" height="57.93" fill="#4270c6" />
<rect x="566.66" y="120.95" width="2.15" height="29.25" fill="#ed7d31" />
<rect x="569.06" y="92.27" width="2.15" height="57.93" fill="#a5a5a5" />
<line x1="564.16" y1="152.20" x2="570.86" y2="152.20" stroke="#000" stroke-width="0.80" />
<text x="567.86" y="157.10" font-size="5.7" stroke="none" fill="#1a1a1a" text-anchor="end" transform="rotate(-45 567.86 153.20)">M1BP</text>
<rect x="571.51" y="62.08" width="2.15" height="88.12" fill="#4270c6" />
<rect x="573.91" y="146.80" width="2.15" height="3.40" fill="#ed7d31" />
<rect x="576.31" y="150.01" width="2.15" height="0.19" fill="#a5a5a5" />
<line x1="571.41" y1="152.20" x2="578.11" y2="152.20" stroke="#000" stroke-width="0.80" />
<text x="575.11" y="157.10" font-size="5.7" stroke="none" fill="#1a1a1a" text-anchor="end" transform="rotate(-45 575.11 153.20)">CP190</text>
<line x1="556.61" y1="170.70" x2="577.51" y2="170.70" stroke="#000" stroke-width="0.90" />
<text x="567.31" y="177.86" font-size="6.30" text-anchor="middle" fill="#000" stroke="#000" >8</text>
<rect x="582.34" y="149.82" width="2.15" height="0.38" fill="#4270c6" />
<line x1="582.24" y1="152.20" x2="588.94" y2="152.20" stroke="#000" stroke-width="0.80" />
<text x="585.94" y="157.10" font-size="5.7" stroke="none" fill="#1a1a1a" text-anchor="end" transform="rotate(-45 585.94 153.20)">Serum</text>
<rect x="589.59" y="91.70" width="2.15" height="58.50" fill="#4270c6" />
<rect x="591.99" y="146.24" width="2.15" height="3.96" fill="#ed7d31" />
<rect x="594.39" y="91.70" width="2.15" height="58.50" fill="#a5a5a5" />
<line x1="589.49" y1="152.20" x2="596.19" y2="152.20" stroke="#000" stroke-width="0.80" />
<text x="593.19" y="157.10" font-size="5.7" stroke="none" fill="#1a1a1a" text-anchor="end" transform="rotate(-45 593.19 153.20)">M1BP</text>
<rect x="596.84" y="93.21" width="2.15" height="56.99" fill="#4270c6" />
<rect x="599.24" y="137.75" width="2.15" height="12.45" fill="#ed7d31" />
<rect x="601.64" y="149.63" width="2.15" height="0.57" fill="#a5a5a5" />
<line x1="596.74" y1="152.20" x2="603.44" y2="152.20" stroke="#000" stroke-width="0.80" />
<text x="600.44" y="157.10" font-size="5.7" stroke="none" fill="#1a1a1a" text-anchor="end" transform="rotate(-45 600.44 153.20)">CP190</text>
<line x1="581.94" y1="170.70" x2="602.84" y2="170.70" stroke="#000" stroke-width="0.90" />
<text x="592.64" y="177.86" font-size="6.30" text-anchor="middle" fill="#000" stroke="#000" >9</text>
<rect x="607.67" y="149.82" width="2.15" height="0.38" fill="#4270c6" />
<rect x="610.07" y="149.82" width="2.15" height="0.38" fill="#ed7d31" />
<rect x="612.47" y="149.82" width="2.15" height="0.38" fill="#a5a5a5" />
<line x1="607.57" y1="152.20" x2="614.27" y2="152.20" stroke="#000" stroke-width="0.80" />
<text x="611.27" y="157.10" font-size="5.7" stroke="none" fill="#1a1a1a" text-anchor="end" transform="rotate(-45 611.27 153.20)">Serum</text>
<rect x="614.92" y="103.40" width="2.15" height="46.80" fill="#4270c6" />
<rect x="617.32" y="145.86" width="2.15" height="4.34" fill="#ed7d31" />
<rect x="619.72" y="103.40" width="2.15" height="46.80" fill="#a5a5a5" />
<line x1="614.82" y1="152.20" x2="621.52" y2="152.20" stroke="#000" stroke-width="0.80" />
<text x="618.52" y="157.10" font-size="5.7" stroke="none" fill="#1a1a1a" text-anchor="end" transform="rotate(-45 618.52 153.20)">M1BP</text>
<rect x="622.17" y="104.72" width="2.15" height="45.48" fill="#4270c6" />
<rect x="624.57" y="104.72" width="2.15" height="45.48" fill="#ed7d31" />
<line x1="622.07" y1="152.20" x2="628.77" y2="152.20" stroke="#000" stroke-width="0.80" />
<text x="625.77" y="157.10" font-size="5.7" stroke="none" fill="#1a1a1a" text-anchor="end" transform="rotate(-45 625.77 153.20)">CP190</text>
<line x1="607.27" y1="170.70" x2="628.17" y2="170.70" stroke="#000" stroke-width="0.90" />
<text x="617.97" y="177.86" font-size="6.30" text-anchor="middle" fill="#000" stroke="#000" >10</text>
<rect x="633.00" y="149.82" width="2.15" height="0.38" fill="#4270c6" />
<line x1="632.90" y1="152.20" x2="639.60" y2="152.20" stroke="#000" stroke-width="0.80" />
<text x="636.60" y="157.10" font-size="5.7" stroke="none" fill="#1a1a1a" text-anchor="end" transform="rotate(-45 636.60 153.20)">Serum</text>
<rect x="640.25" y="50.94" width="2.15" height="99.26" fill="#4270c6" />
<rect x="642.65" y="118.31" width="2.15" height="31.89" fill="#ed7d31" />
<rect x="645.05" y="50.94" width="2.15" height="99.26" fill="#a5a5a5" />
<line x1="640.15" y1="152.20" x2="646.85" y2="152.20" stroke="#000" stroke-width="0.80" />
<text x="643.85" y="157.10" font-size="5.7" stroke="none" fill="#1a1a1a" text-anchor="end" transform="rotate(-45 643.85 153.20)">M1BP</text>
<rect x="647.50" y="101.70" width="2.15" height="48.50" fill="#4270c6" />
<rect x="649.90" y="101.70" width="2.15" height="48.50" fill="#ed7d31" />
<line x1="647.40" y1="152.20" x2="654.10" y2="152.20" stroke="#000" stroke-width="0.80" />
<text x="651.10" y="157.10" font-size="5.7" stroke="none" fill="#1a1a1a" text-anchor="end" transform="rotate(-45 651.10 153.20)">CP190</text>
<line x1="632.60" y1="170.70" x2="653.50" y2="170.70" stroke="#000" stroke-width="0.90" />
<text x="643.30" y="177.86" font-size="6.30" text-anchor="middle" fill="#000" stroke="#000" >11</text>
<rect x="658.33" y="149.82" width="2.15" height="0.38" fill="#4270c6" />
<line x1="658.23" y1="152.20" x2="664.93" y2="152.20" stroke="#000" stroke-width="0.80" />
<text x="661.93" y="157.10" font-size="5.7" stroke="none" fill="#1a1a1a" text-anchor="end" transform="rotate(-45 661.93 153.20)">Serum</text>
<rect x="665.58" y="149.63" width="2.15" height="0.57" fill="#4270c6" />
<rect x="667.98" y="149.63" width="2.15" height="0.57" fill="#ed7d31" />
<rect x="670.38" y="149.63" width="2.15" height="0.57" fill="#a5a5a5" />
<line x1="665.48" y1="152.20" x2="672.18" y2="152.20" stroke="#000" stroke-width="0.80" />
<text x="669.18" y="157.10" font-size="5.7" stroke="none" fill="#1a1a1a" text-anchor="end" transform="rotate(-45 669.18 153.20)">M1BP</text>
<rect x="672.83" y="83.97" width="2.15" height="66.23" fill="#4270c6" />
<rect x="675.23" y="83.97" width="2.15" height="66.23" fill="#ed7d31" />
<line x1="672.73" y1="152.20" x2="679.43" y2="152.20" stroke="#000" stroke-width="0.80" />
<text x="676.43" y="157.10" font-size="5.7" stroke="none" fill="#1a1a1a" text-anchor="end" transform="rotate(-45 676.43 153.20)">CP190</text>
<line x1="657.93" y1="170.70" x2="678.83" y2="170.70" stroke="#000" stroke-width="0.90" />
<text x="668.63" y="177.86" font-size="6.30" text-anchor="middle" fill="#000" stroke="#000" >12</text>
<rect x="656.10" y="18.80" width="3.10" height="3.10" fill="#4270c6" />
<text x="660.20" y="22.24" font-size="5.70" text-anchor="start" fill="#000" stroke="#000" >Mock</text>
<rect x="656.10" y="24.10" width="3.10" height="3.10" fill="#e8601c" />
<text x="660.20" y="27.54" font-size="5.70" text-anchor="start" fill="#000" stroke="#000" font-style="italic" >M1BP<tspan dy="-2.05" font-size="3.10" font-style="normal" stroke="none">RNAi</tspan></text>
<rect x="656.10" y="29.40" width="3.10" height="3.10" fill="#a5a5a5" />
<text x="660.20" y="32.94" font-size="5.70" text-anchor="start" fill="#000" stroke="#000" font-style="italic" >Cp190<tspan dy="-2.05" font-size="3.10" font-style="normal" stroke="none">RNAi</tspan></text>
</g>
<g id="panelD">
<text x="0.20" y="200.00" font-size="11.50" font-weight="bold" fill="#000">d</text>
<text x="56.90" y="209.33" font-size="6.50" text-anchor="start" fill="#000" stroke="#000" >TAD Border</text>
<text x="92.60" y="204.20" font-size="5.60" text-anchor="start" fill="#000" stroke="#000" >10 kb</text>
<line x1="107.50" y1="202.40" x2="222.00" y2="202.40" stroke="#222" stroke-width="0.70" />
<text x="108.60" y="199.96" font-size="6.60" text-anchor="start" fill="#000" stroke="#000" >Chr2L:6322767-6324767</text>
<ellipse cx="94.1" cy="210.7" rx="0.95" ry="3.1" fill="#98101c"/>
<text x="47.90" y="221.13" font-size="6.50" text-anchor="start" fill="#000" stroke="#000" >Inactive</text>
<rect x="71.40" y="217.70" width="23.20" height="3.30" fill="#000" />
<rect x="94.40" y="214.30" width="128.30" height="3.45" fill="#000" />
<text x="97.20" y="213.13" font-size="6.50" text-anchor="start" fill="#000" stroke="#000" >Active</text>
<text x="95.70" y="237.64" font-size="5.70" text-anchor="end" fill="#6c6c6c" stroke="#6c6c6c" font-style="italic" >PDZ-GEF</text>
<line x1="97.20" y1="227.00" x2="99.60" y2="227.00" stroke="#555" stroke-width="0.70" />
<line x1="97.20" y1="230.20" x2="191.50" y2="230.20" stroke="#555" stroke-width="0.70" />
<rect x="97.20" y="229.60" width="3.00" height="1.20" fill="#555" />
<rect x="183.00" y="229.40" width="8.50" height="1.60" fill="#555" />
<line x1="97.20" y1="233.60" x2="191.50" y2="233.60" stroke="#555" stroke-width="0.70" />
<rect x="97.20" y="233.00" width="3.00" height="1.20" fill="#555" />
<rect x="183.00" y="232.80" width="8.50" height="1.60" fill="#555" />
<line x1="97.20" y1="237.00" x2="191.50" y2="237.00" stroke="#555" stroke-width="0.70" />
<rect x="97.20" y="236.40" width="3.00" height="1.20" fill="#555" />
<rect x="183.00" y="236.20" width="8.50" height="1.60" fill="#555" />
<line x1="97.20" y1="240.60" x2="203.90" y2="240.60" stroke="#555" stroke-width="0.70" />
<rect x="97.20" y="240.00" width="2.00" height="1.20" fill="#555" />
<rect x="183.00" y="239.80" width="20.90" height="1.60" fill="#555" />
<rect x="115.40" y="229.00" width="0.90" height="13.20" fill="#555" />
<rect x="116.90" y="229.00" width="1.60" height="13.20" fill="#555" />
<rect x="120.00" y="229.00" width="44.00" height="13.20" fill="#555" />
<line x1="120.00" y1="231.90" x2="164.00" y2="231.90" stroke="#888" stroke-width="0.45" />
<line x1="120.00" y1="235.30" x2="164.00" y2="235.30" stroke="#888" stroke-width="0.45" />
<line x1="120.00" y1="238.80" x2="164.00" y2="238.80" stroke="#888" stroke-width="0.45" />
<rect x="165.90" y="229.00" width="1.00" height="13.20" fill="#555" />
<rect x="172.50" y="232.60" width="4.00" height="9.60" fill="#555" />
<path d="M176.5 233.5 L178.6 237.5 L176.5 241.5Z" fill="#555" stroke="none" stroke-width="0.60" />
<rect x="180.00" y="229.00" width="0.70" height="13.20" fill="#555" />
<path d="M96.80 249.80v-1.80h0.7v1.80zM97.50 249.80v-2.04h0.7v2.04zM98.20 249.80v-0.41h0.7v0.41zM98.90 249.80v-3.11h0.7v3.11zM99.60 249.80v-0.76h0.7v0.76zM103.70 249.80v-0.75h0.7v0.75zM107.20 249.80v-0.88h0.7v0.88zM108.60 249.80v-0.35h0.7v0.35zM113.40 249.80v-2.50h0.7v2.50zM114.10 249.80v-3.06h0.7v3.06zM114.80 249.80v-0.44h0.7v0.44zM115.50 249.80v-0.65h0.7v0.65zM116.90 249.80v-0.90h0.7v0.90zM117.60 249.80v-0.75h0.7v0.75zM118.30 249.80v-0.58h0.7v0.58zM124.60 249.80v-1.23h0.7v1.23zM128.10 249.80v-1.18h0.7v1.18zM129.50 249.80v-0.37h0.7v0.37zM131.60 249.80v-1.14h0.7v1.14zM132.30 249.80v-0.41h0.7v0.41zM133.00 249.80v-1.09h0.7v1.09zM134.40 249.80v-0.88h0.7v0.88zM135.10 249.80v-1.02h0.7v1.02zM135.80 249.80v-1.26h0.7v1.26zM137.20 249.80v-1.45h0.7v1.45zM137.90 249.80v-0.37h0.7v0.37zM139.30 249.80v-0.45h0.7v0.45zM140.00 249.80v-0.87h0.7v0.87zM140.00 249.80v-0.36h0.7v0.36zM141.40 249.80v-1.48h0.7v1.48zM142.80 249.80v-0.72h0.7v0.72zM143.50 249.80v-0.97h0.7v0.97zM144.20 249.80v-0.85h0.7v0.85zM146.30 249.80v-0.69h0.7v0.69zM147.70 249.80v-0.55h0.7v0.55zM149.10 249.80v-0.84h0.7v0.84zM149.80 249.80v-0.67h0.7v0.67zM150.50 249.80v-0.35h0.7v0.35zM152.60 249.80v-0.95h0.7v0.95zM153.30 249.80v-1.02h0.7v1.02zM154.00 249.80v-1.06h0.7v1.06zM155.00 249.80v-0.39h0.7v0.39zM155.70 249.80v-2.81h0.7v2.81zM156.40 249.80v-1.15h0.7v1.15zM157.10 249.80v-0.82h0.7v0.82zM157.80 249.80v-0.80h0.7v0.80zM158.50 249.80v-1.55h0.7v1.55zM159.20 249.80v-0.95h0.7v0.95zM159.90 249.80v-0.36h0.7v0.36zM160.60 249.80v-1.99h0.7v1.99zM161.30 249.80v-0.62h0.7v0.62zM162.00 249.80v-0.65h0.7v0.65zM162.70 249.80v-1.10h0.7v1.10zM163.40 249.80v-0.43h0.7v0.43zM164.10 249.80v-0.85h0.7v0.85zM164.80 249.80v-1.10h0.7v1.10zM165.50 249.80v-0.53h0.7v0.53zM166.20 249.80v-1.71h0.7v1.71zM166.90 249.80v-1.14h0.7v1.14zM167.60 249.80v-0.46h0.7v0.46zM168.30 249.80v-0.57h0.7v0.57zM169.00 249.80v-2.35h0.7v2.35zM172.60 249.80v-0.88h0.7v0.88zM173.30 249.80v-2.20h0.7v2.20zM174.00 249.80v-1.08h0.7v1.08zM174.70 249.80v-0.92h0.7v0.92zM175.40 249.80v-0.86h0.7v0.86zM176.10 249.80v-1.32h0.7v1.32zM176.80 249.80v-1.29h0.7v1.29zM179.20 249.80v-0.35h0.7v0.35zM182.00 249.80v-2.39h0.7v2.39zM183.40 249.80v-1.77h0.7v1.77zM185.50 249.80v-0.69h0.7v0.69zM186.20 249.80v-0.59h0.7v0.59zM186.90 249.80v-1.34h0.7v1.34zM187.60 249.80v-1.95h0.7v1.95zM188.30 249.80v-2.24h0.7v2.24zM192.50 249.80v-1.77h0.7v1.77zM193.00 249.80v-0.48h0.7v0.48zM197.90 249.80v-0.99h0.7v0.99zM200.70 249.80v-0.66h0.7v0.66zM202.10 249.80v-0.91h0.7v0.91z" fill="#2a9a78" stroke="none" stroke-width="0.60" fill-opacity="1.00"/>
<path d="M204.5 249.8v-.8h.7v.8zM222 249.8v-.8h.6v.8z" fill="#2a9a78" stroke="none" stroke-width="0.60" />
<path d="M100.70 262.80v-0.79h0.7v0.79zM102.80 262.80v-0.55h0.7v0.55zM106.00 262.80v-0.93h0.7v0.93zM107.40 262.80v-1.13h0.7v1.13zM110.20 262.80v-0.35h0.7v0.35zM111.60 262.80v-0.42h0.7v0.42zM114.00 262.80v-0.36h0.7v0.36zM120.30 262.80v-1.94h0.7v1.94zM123.10 262.80v-0.53h0.7v0.53zM123.80 262.80v-0.38h0.7v0.38zM126.60 262.80v-1.85h0.7v1.85zM128.00 262.80v-0.50h0.7v0.50zM130.80 262.80v-0.38h0.7v0.38zM136.70 262.80v-0.39h0.7v0.39zM137.40 262.80v-1.86h0.7v1.86zM138.80 262.80v-0.55h0.7v0.55zM139.50 262.80v-0.37h0.7v0.37zM140.90 262.80v-1.02h0.7v1.02zM142.30 262.80v-1.35h0.7v1.35zM143.00 262.80v-1.18h0.7v1.18zM143.70 262.80v-0.79h0.7v0.79zM144.40 262.80v-0.57h0.7v0.57zM146.50 262.80v-1.68h0.7v1.68zM147.20 262.80v-0.75h0.7v0.75zM151.70 262.80v-2.22h0.7v2.22zM152.40 262.80v-0.60h0.7v0.60zM153.80 262.80v-0.66h0.7v0.66zM154.50 262.80v-0.40h0.7v0.40zM155.90 262.80v-1.24h0.7v1.24zM156.60 262.80v-0.93h0.7v0.93zM160.10 262.80v-0.46h0.7v0.46zM162.20 262.80v-0.51h0.7v0.51zM164.30 262.80v-2.11h0.7v2.11zM167.10 262.80v-0.36h0.7v0.36zM168.50 262.80v-1.47h0.7v1.47zM169.20 262.80v-1.77h0.7v1.77zM172.00 262.80v-0.53h0.7v0.53zM173.40 262.80v-0.61h0.7v0.61zM174.10 262.80v-2.24h0.7v2.24zM175.50 262.80v-2.46h0.7v2.46zM176.20 262.80v-0.36h0.7v0.36zM176.90 262.80v-1.06h0.7v1.06zM180.00 262.80v-0.50h0.7v0.50zM180.70 262.80v-1.22h0.7v1.22zM181.40 262.80v-0.79h0.7v0.79zM185.60 262.80v-0.36h0.7v0.36zM186.30 262.80v-2.09h0.7v2.09zM188.40 262.80v-1.36h0.7v1.36zM190.50 262.80v-2.35h0.7v2.35zM191.20 262.80v-1.16h0.7v1.16z" fill="#5c5cc4" stroke="none" stroke-width="0.60" fill-opacity="0.85"/>
<path d="M181.5 262.8v-3.4h.6v3.4z" fill="#5c5cc4" stroke="none" stroke-width="0.60" />
<path d="M100.70 275.60v-0.39h0.7v0.39zM101.40 275.60v-0.44h0.7v0.44zM102.80 275.60v-0.37h0.7v0.37zM115.10 275.60v-0.37h0.7v0.37zM115.80 275.60v-0.83h0.7v0.83zM119.30 275.60v-1.10h0.7v1.10zM125.80 275.60v-1.72h0.7v1.72zM126.50 275.60v-2.79h0.7v2.79zM128.00 275.60v-0.46h0.7v0.46zM129.40 275.60v-1.65h0.7v1.65zM130.10 275.60v-1.02h0.7v1.02zM130.80 275.60v-0.44h0.7v0.44zM131.50 275.60v-1.13h0.7v1.13zM132.20 275.60v-2.22h0.7v2.22zM134.30 275.60v-0.36h0.7v0.36zM135.00 275.60v-0.43h0.7v0.43zM136.40 275.60v-0.45h0.7v0.45zM137.10 275.60v-0.91h0.7v0.91zM138.50 275.60v-0.71h0.7v0.71zM139.90 275.60v-0.56h0.7v0.56zM144.40 275.60v-0.37h0.7v0.37zM146.50 275.60v-0.64h0.7v0.64zM147.90 275.60v-0.42h0.7v0.42zM150.00 275.60v-0.84h0.7v0.84zM153.40 275.60v-1.19h0.7v1.19zM154.80 275.60v-0.73h0.7v0.73zM159.70 275.60v-0.93h0.7v0.93zM160.40 275.60v-1.44h0.7v1.44zM161.80 275.60v-0.49h0.7v0.49zM163.90 275.60v-0.64h0.7v0.64zM165.30 275.60v-1.68h0.7v1.68zM168.80 275.60v-0.92h0.7v0.92zM172.00 275.60v-0.38h0.7v0.38zM173.40 275.60v-1.03h0.7v1.03zM174.80 275.60v-2.13h0.7v2.13zM175.50 275.60v-1.05h0.7v1.05zM176.20 275.60v-0.76h0.7v0.76zM176.90 275.60v-1.00h0.7v1.00zM185.70 275.60v-1.55h0.7v1.55zM186.40 275.60v-0.93h0.7v0.93zM187.10 275.60v-0.83h0.7v0.83zM187.80 275.60v-0.84h0.7v0.84zM188.50 275.60v-0.84h0.7v0.84zM189.20 275.60v-0.67h0.7v0.67zM190.60 275.60v-2.46h0.7v2.46zM191.30 275.60v-1.54h0.7v1.54zM192.00 275.60v-1.67h0.7v1.67z" fill="#e27a28" stroke="none" stroke-width="0.60" fill-opacity="0.95"/>
<path d="M222 275.6v-1h.6v1z" fill="#e27a28" stroke="none" stroke-width="0.60" />
<line x1="42.60" y1="244.80" x2="42.60" y2="277.60" stroke="#000" stroke-width="0.80" />
<text x="40.90" y="263.73" font-size="6.50" text-anchor="end" fill="#000" stroke="#000" >neuRNA-seq</text>
<path d="M74.00 250.00 V244.60 H78.40" fill="none" stroke="#000" stroke-width="0.85" />
<text x="80.00" y="246.24" font-size="5.70" text-anchor="start" fill="#000" stroke="#000" >25</text>
<text x="71.50" y="251.44" font-size="5.70" text-anchor="end" fill="#000" stroke="#000" >Mock</text>
<path d="M74.00 262.90 V257.50 H78.40" fill="none" stroke="#000" stroke-width="0.85" />
<text x="80.00" y="259.14" font-size="5.70" text-anchor="start" fill="#000" stroke="#000" >25</text>
<text x="71.60" y="263.50" font-size="5.60" text-anchor="end" fill="#000" stroke="#000" font-style="italic" >M1BP<tspan dy="-2.02" font-size="3.00" font-style="normal" stroke="none">RNAi</tspan></text>
<path d="M74.00 275.80 V270.40 H78.40" fill="none" stroke="#000" stroke-width="0.85" />
<text x="80.00" y="272.04" font-size="5.70" text-anchor="start" fill="#000" stroke="#000" >25</text>
<text x="71.60" y="276.40" font-size="5.60" text-anchor="end" fill="#000" stroke="#000" font-style="italic" >Cp190<tspan dy="-2.02" font-size="3.00" font-style="normal" stroke="none">RNAi</tspan></text>
<path d="M74.00 287.50 V281.30 H78.40" fill="none" stroke="#000" stroke-width="0.85" />
<text x="79.80" y="282.94" font-size="5.70" text-anchor="start" fill="#000" stroke="#000" >100</text>
<text x="72.00" y="287.24" font-size="5.70" text-anchor="end" fill="#000" stroke="#000" >Mock</text>
<line x1="74.00" y1="287.50" x2="222.60" y2="287.50" stroke="#777" stroke-width="0.70" stroke-opacity="0.85"/>
<line x1="96.00" y1="287.25" x2="222.60" y2="287.25" stroke="#666" stroke-width="0.50" stroke-dasharray="5 9 2 6 7 11 3 8"/>
<path d="M74.00 302.40 V296.20 H78.40" fill="none" stroke="#000" stroke-width="0.85" />
<text x="79.80" y="297.84" font-size="5.70" text-anchor="start" fill="#000" stroke="#000" >100</text>
<text x="71.60" y="299.80" font-size="5.60" text-anchor="end" fill="#2a2ab8" stroke="#2a2ab8" font-style="italic" >Cp190<tspan dy="-2.02" font-size="3.00" font-style="normal" stroke="none">RNAi</tspan></text>
<line x1="74.00" y1="302.40" x2="222.60" y2="302.40" stroke="#777" stroke-width="0.70" stroke-opacity="0.85"/>
<line x1="98.00" y1="302.15" x2="222.60" y2="302.15" stroke="#666" stroke-width="0.50" stroke-dasharray="3 7 6 10 2 5 8 9"/>
<path d="M74.00 317.40 V311.20 H78.40" fill="none" stroke="#000" stroke-width="0.85" />
<text x="79.80" y="312.84" font-size="5.70" text-anchor="start" fill="#000" stroke="#000" >100</text>
<text x="72.00" y="317.14" font-size="5.70" text-anchor="end" fill="#000" stroke="#000" >Mock</text>
<line x1="74.00" y1="317.40" x2="222.60" y2="317.40" stroke="#148264" stroke-width="0.70" stroke-opacity="0.9"/>
<path d="M74.00 332.30 V326.10 H78.40" fill="none" stroke="#000" stroke-width="0.85" />
<text x="79.80" y="327.74" font-size="5.70" text-anchor="start" fill="#000" stroke="#000" >100</text>
<text x="71.60" y="329.70" font-size="5.60" text-anchor="end" fill="#2a2ab8" stroke="#2a2ab8" font-style="italic" >Cp190<tspan dy="-2.02" font-size="3.00" font-style="normal" stroke="none">RNAi</tspan></text>
<line x1="74.00" y1="332.30" x2="222.60" y2="332.30" stroke="#148264" stroke-width="0.70" stroke-opacity="0.9"/>
<path d="M74.00 347.10 V340.90 H78.40" fill="none" stroke="#000" stroke-width="0.85" />
<text x="79.80" y="342.54" font-size="5.70" text-anchor="start" fill="#000" stroke="#000" >160</text>
<text x="72.00" y="346.84" font-size="5.70" text-anchor="end" fill="#000" stroke="#000" >Mock</text>
<line x1="74.00" y1="347.10" x2="222.60" y2="347.10" stroke="#a8059a" stroke-width="0.70" stroke-opacity="0.9"/>
<path d="M74.00 362.40 V356.20 H78.40" fill="none" stroke="#000" stroke-width="0.85" />
<text x="79.80" y="357.84" font-size="5.70" text-anchor="start" fill="#000" stroke="#000" >160</text>
<text x="71.60" y="359.80" font-size="5.60" text-anchor="end" fill="#2a2ab8" stroke="#2a2ab8" font-style="italic" >Cp190<tspan dy="-2.02" font-size="3.00" font-style="normal" stroke="none">RNAi</tspan></text>
<line x1="74.00" y1="362.40" x2="222.60" y2="362.40" stroke="#a8059a" stroke-width="0.70" stroke-opacity="0.9"/>
<path d="M74.00 377.50 V371.30 H78.40" fill="none" stroke="#000" stroke-width="0.85" />
<text x="79.80" y="372.94" font-size="5.70" text-anchor="start" fill="#000" stroke="#000" >100</text>
<text x="73.70" y="377.64" font-size="5.70" text-anchor="end" fill="#000" stroke="#000" >Mock</text>
<line x1="74.00" y1="377.50" x2="222.60" y2="377.50" stroke="#777" stroke-width="0.70" stroke-opacity="0.85"/>
<line x1="108.00" y1="377.25" x2="222.60" y2="377.25" stroke="#666" stroke-width="0.50" stroke-dasharray="5 9 2 6 7 11 3 8"/>
<path d="M74.00 392.40 V386.20 H78.40" fill="none" stroke="#000" stroke-width="0.85" />
<text x="79.80" y="387.84" font-size="5.70" text-anchor="start" fill="#000" stroke="#000" >100</text>
<text x="73.40" y="390.50" font-size="5.60" text-anchor="end" fill="#8a1a1a" stroke="#8a1a1a" font-style="italic" >M1BP<tspan dy="-2.02" font-size="3.00" font-style="normal" stroke="none">RNAi</tspan></text>
<line x1="74.00" y1="392.40" x2="222.60" y2="392.40" stroke="#777" stroke-width="0.70" stroke-opacity="0.85"/>
<line x1="110.00" y1="392.15" x2="222.60" y2="392.15" stroke="#666" stroke-width="0.50" stroke-dasharray="3 7 6 10 2 5 8 9"/>
<path d="M74.00 408.70 V402.50 H78.40" fill="none" stroke="#000" stroke-width="0.85" />
<text x="79.80" y="404.14" font-size="5.70" text-anchor="start" fill="#000" stroke="#000" >100</text>
<text x="73.70" y="408.84" font-size="5.70" text-anchor="end" fill="#000" stroke="#000" >Mock</text>
<line x1="74.00" y1="408.70" x2="222.60" y2="408.70" stroke="#148264" stroke-width="0.70" stroke-opacity="0.9"/>
<path d="M74.00 423.40 V417.20 H78.40" fill="none" stroke="#000" stroke-width="0.85" />
<text x="79.80" y="418.84" font-size="5.70" text-anchor="start" fill="#000" stroke="#000" >100</text>
<text x="73.40" y="421.50" font-size="5.60" text-anchor="end" fill="#8a1a1a" stroke="#8a1a1a" font-style="italic" >M1BP<tspan dy="-2.02" font-size="3.00" font-style="normal" stroke="none">RNAi</tspan></text>
<line x1="74.00" y1="423.40" x2="222.60" y2="423.40" stroke="#148264" stroke-width="0.70" stroke-opacity="0.9"/>
<path d="M74.00 438.70 V432.50 H78.40" fill="none" stroke="#000" stroke-width="0.85" />
<text x="79.80" y="434.14" font-size="5.70" text-anchor="start" fill="#000" stroke="#000" >160</text>
<text x="73.70" y="438.84" font-size="5.70" text-anchor="end" fill="#000" stroke="#000" >Mock</text>
<line x1="74.00" y1="438.70" x2="222.60" y2="438.70" stroke="#a8059a" stroke-width="0.70" stroke-opacity="0.9"/>
<path d="M74.00 453.80 V447.60 H78.40" fill="none" stroke="#000" stroke-width="0.85" />
<text x="79.80" y="449.24" font-size="5.70" text-anchor="start" fill="#000" stroke="#000" >160</text>
<text x="73.40" y="451.90" font-size="5.60" text-anchor="end" fill="#8a1a1a" stroke="#8a1a1a" font-style="italic" >M1BP<tspan dy="-2.02" font-size="3.00" font-style="normal" stroke="none">RNAi</tspan></text>
<line x1="74.00" y1="453.80" x2="222.60" y2="453.80" stroke="#a8059a" stroke-width="0.70" stroke-opacity="0.6"/>
<line x1="42.60" y1="282.90" x2="42.60" y2="302.30" stroke="#000" stroke-width="0.80" />
<text x="41.10" y="294.63" font-size="6.50" text-anchor="end" fill="#000" stroke="#000" >Input</text>
<line x1="42.60" y1="311.80" x2="42.60" y2="331.30" stroke="#000" stroke-width="0.80" />
<text x="41.10" y="323.58" font-size="6.50" text-anchor="end" fill="#000" stroke="#000" >CP190</text>
<line x1="42.60" y1="341.80" x2="42.60" y2="361.30" stroke="#000" stroke-width="0.80" />
<text x="41.10" y="353.58" font-size="6.50" text-anchor="end" fill="#000" stroke="#000" >M1BP</text>
<line x1="42.60" y1="372.20" x2="42.60" y2="390.80" stroke="#000" stroke-width="0.80" />
<text x="41.10" y="383.53" font-size="6.50" text-anchor="end" fill="#000" stroke="#000" >Input</text>
<line x1="42.60" y1="403.20" x2="42.60" y2="422.40" stroke="#000" stroke-width="0.80" />
<text x="41.10" y="414.83" font-size="6.50" text-anchor="end" fill="#000" stroke="#000" >CP190</text>
<line x1="42.60" y1="432.70" x2="42.60" y2="451.30" stroke="#000" stroke-width="0.80" />
<text x="41.10" y="444.03" font-size="6.50" text-anchor="end" fill="#000" stroke="#000" >M1BP</text>
<path d="M92.20 317.40 L93.40 315.67 L94.31 311.65 L95.42 307.62 L96.42 306.13 L97.00 305.90 L97.55 306.13 L98.38 307.51 L99.53 311.07 L100.59 314.64 L101.60 316.25 L105.16 316.82 L110.50 317.40Z" fill="#148264" stroke="none" stroke-width="0.60" />
<rect x="93.10" y="317.75" width="11.00" height="3.60" fill="#148264" />
<path d="M94.10 332.30 L94.95 331.88 L95.60 330.90 L96.38 329.92 L97.09 329.56 L97.50 329.50 L97.91 329.56 L98.52 329.89 L99.37 330.76 L100.15 331.63 L100.90 332.02 L101.74 332.16 L103.00 332.30Z" fill="#148264" stroke="none" stroke-width="0.60" />
<rect x="94.90" y="332.65" width="5.70" height="3.30" fill="#148264" />
<path d="M108 332.30 q3 -1.1 6 0z M118 332.30 q3.5 -1.2 7 0z" fill="#148264" stroke="none" stroke-width="0.60" fill-opacity="0.8"/>
<path d="M93.60 347.10 L94.68 346.14 L95.49 343.90 L96.48 341.66 L97.38 340.83 L97.90 340.70 L98.45 340.83 L99.28 341.60 L100.43 343.58 L101.49 345.56 L102.50 346.46 L104.30 346.78 L107.00 347.10Z" fill="#a8059a" stroke="none" stroke-width="0.60" />
<rect x="94.50" y="347.45" width="8.50" height="3.60" fill="#a8059a" />
<path d="M94.00 362.40 L94.98 361.62 L95.72 359.80 L96.61 357.98 L97.43 357.30 L97.90 357.20 L98.38 357.30 L99.10 357.93 L100.10 359.54 L101.02 361.15 L101.90 361.88 L105.14 362.14 L110.00 362.40Z" fill="#a8059a" stroke="none" stroke-width="0.60" />
<rect x="94.00" y="363.40" width="9.00" height="3.00" fill="#000" />
<path d="M92.20 408.70 L93.40 406.90 L94.31 402.70 L95.42 398.50 L96.42 396.94 L97.00 396.70 L97.58 396.94 L98.44 398.38 L99.64 402.10 L100.74 405.82 L101.80 407.50 L105.08 408.10 L110.00 408.70Z" fill="#148264" stroke="none" stroke-width="0.60" />
<rect x="92.90" y="409.05" width="10.70" height="3.90" fill="#148264" />
<path d="M92.20 423.40 L93.40 422.29 L94.31 419.70 L95.42 417.11 L96.42 416.15 L97.00 416.00 L97.55 416.15 L98.38 417.04 L99.53 419.33 L100.59 421.62 L101.60 422.66 L104.16 423.03 L108.00 423.40Z" fill="#148264" stroke="none" stroke-width="0.60" />
<rect x="93.10" y="424.40" width="8.90" height="2.80" fill="#000" />
<path d="M92.70 438.70 L94.05 437.90 L95.08 436.05 L96.32 434.19 L97.45 433.51 L98.10 433.40 L98.75 433.51 L99.72 434.14 L101.07 435.78 L102.31 437.43 L103.50 438.17 L104.90 438.44 L107.00 438.70Z" fill="#a8059a" stroke="none" stroke-width="0.60" />
<rect x="93.80" y="439.05" width="10.00" height="4.00" fill="#a8059a" />
<line x1="95.50" y1="453.80" x2="104.00" y2="453.80" stroke="#a8059a" stroke-width="0.70" stroke-opacity="0.8"/>
<text x="99.6" y="460.0" font-size="8" text-anchor="middle" fill="#5a1010" font-family="DejaVu Sans, sans-serif">★</text>
</g>
<g id="panelE">
<text x="238.40" y="200.20" font-size="11.50" font-weight="bold" fill="#000">e</text>
<rect x="262.50" y="226.70" width="93.30" height="86.60" fill="none" stroke="#b5b5b5" stroke-width="0.6"/>
<line x1="261.20" y1="312.30" x2="262.50" y2="312.30" stroke="#666" stroke-width="0.50" />
<text x="260.10" y="313.83" font-size="6.50" text-anchor="end" fill="#000" stroke="#000" >0.0</text>
<line x1="261.20" y1="295.24" x2="262.50" y2="295.24" stroke="#666" stroke-width="0.50" />
<text x="260.10" y="296.77" font-size="6.50" text-anchor="end" fill="#000" stroke="#000" >0.2</text>
<line x1="261.20" y1="278.18" x2="262.50" y2="278.18" stroke="#666" stroke-width="0.50" />
<text x="260.10" y="279.71" font-size="6.50" text-anchor="end" fill="#000" stroke="#000" >0.4</text>
<line x1="261.20" y1="261.12" x2="262.50" y2="261.12" stroke="#666" stroke-width="0.50" />
<text x="260.10" y="262.65" font-size="6.50" text-anchor="end" fill="#000" stroke="#000" >0.6</text>
<line x1="261.20" y1="244.06" x2="262.50" y2="244.06" stroke="#666" stroke-width="0.50" />
<text x="260.10" y="245.59" font-size="6.50" text-anchor="end" fill="#000" stroke="#000" >0.8</text>
<line x1="261.20" y1="227.00" x2="262.50" y2="227.00" stroke="#666" stroke-width="0.50" />
<text x="260.10" y="228.53" font-size="6.50" text-anchor="end" fill="#000" stroke="#000" >1.0</text>
<line x1="262.80" y1="313.30" x2="262.80" y2="314.60" stroke="#666" stroke-width="0.50" />
<text x="262.80" y="320.83" font-size="6.50" text-anchor="middle" fill="#000" stroke="#000" >0</text>
<line x1="281.08" y1="313.30" x2="281.08" y2="314.60" stroke="#666" stroke-width="0.50" />
<text x="281.08" y="320.83" font-size="6.50" text-anchor="middle" fill="#000" stroke="#000" >20</text>
<line x1="299.36" y1="313.30" x2="299.36" y2="314.60" stroke="#666" stroke-width="0.50" />
<text x="299.36" y="320.83" font-size="6.50" text-anchor="middle" fill="#000" stroke="#000" >40</text>
<line x1="317.64" y1="313.30" x2="317.64" y2="314.60" stroke="#666" stroke-width="0.50" />
<text x="317.64" y="320.83" font-size="6.50" text-anchor="middle" fill="#000" stroke="#000" >60</text>
<line x1="335.92" y1="313.30" x2="335.92" y2="314.60" stroke="#666" stroke-width="0.50" />
<text x="335.92" y="320.83" font-size="6.50" text-anchor="middle" fill="#000" stroke="#000" >80</text>
<line x1="354.20" y1="313.30" x2="354.20" y2="314.60" stroke="#666" stroke-width="0.50" />
<text x="354.20" y="320.83" font-size="6.50" text-anchor="middle" fill="#000" stroke="#000" >100</text>
<text x="309.55" y="330.30" font-size="6.70" text-anchor="middle" fill="#000" stroke="#000" >Distance from TAD boundary (Kb)</text>
<text x="245.50" y="273.11" font-size="6.45" text-anchor="middle" fill="#000" stroke="#000" transform="rotate(-90 245.50 270.80)" >Fraction of changed genes</text>
<text x="310.45" y="222.76" font-size="6.60" text-anchor="middle" fill="#000" stroke="#000" font-style="italic" >M1BP<tspan dy="-2.38" font-size="3.50" font-style="normal" stroke="none">RNAi</tspan></text>
<path d="M262.80 306.33 L262.82 306.19 L262.87 305.83 L262.94 305.30 L263.04 304.61 L263.16 303.78 L263.29 302.82 L263.45 301.74 L263.63 300.56 L263.83 299.27 L264.04 297.90 L264.27 296.46 L264.52 294.94 L264.79 293.38 L265.07 291.76 L265.37 290.11 L265.69 288.42 L266.02 286.72 L266.37 285.00 L266.74 283.27 L267.12 281.54 L267.51 279.82 L267.93 278.12 L268.35 276.43 L268.79 274.76 L269.25 273.12 L269.72 271.51 L270.21 269.93 L270.71 268.39 L271.23 266.89 L271.76 265.44 L272.30 264.02 L272.86 262.65 L273.43 261.32 L274.02 260.04 L274.62 258.81 L275.24 257.62 L275.86 256.48 L276.51 255.38 L277.16 254.33 L277.83 253.32 L278.52 252.35 L279.21 251.43 L279.92 250.54 L280.65 249.70 L281.38 248.89 L282.13 248.12 L282.90 247.38 L283.67 246.67 L284.46 246.00 L285.26 245.36 L286.08 244.74 L286.91 244.15 L287.75 243.59 L288.60 243.06 L289.47 242.54 L290.35 242.05 L291.24 241.58 L292.14 241.13 L293.06 240.70 L293.99 240.29 L294.93 239.89 L295.89 239.51 L296.85 239.14 L297.83 238.79 L298.82 238.45 L299.83 238.13 L300.84 237.81 L301.87 237.51 L302.91 237.22 L303.96 236.94 L305.03 236.67 L306.10 236.41 L307.19 236.16 L308.29 235.92 L309.41 235.68 L310.53 235.46 L311.67 235.24 L312.82 235.03 L313.98 234.83 L315.15 234.63 L316.33 234.44 L317.53 234.26 L318.73 234.08 L319.95 233.91 L321.18 233.74 L322.43 233.58 L323.68 233.43 L324.94 233.28 L326.22 233.14 L327.51 233.00 L328.81 232.87 L330.12 232.74 L331.44 232.62 L332.78 232.50 L334.12 232.39 L335.48 232.28 L336.85 232.17 L338.23 232.07 L339.62 231.98 L341.02 231.88 L342.44 231.79 L343.86 231.71 L345.30 231.62 L346.74 231.54 L348.20 231.47 L349.67 231.40 L351.15 231.33 L352.65 231.26 L354.15 231.20 L355.66 231.13" fill="none" stroke="#e05a5a" stroke-width="0.70" stroke-linejoin="round"/>
<path d="M262.80 306.33 L262.82 306.15 L262.87 305.72 L262.94 305.07 L263.04 304.23 L263.16 303.22 L263.29 302.06 L263.45 300.77 L263.63 299.35 L263.83 297.82 L264.04 296.21 L264.27 294.52 L264.52 292.76 L264.79 290.96 L265.07 289.12 L265.37 287.25 L265.69 285.37 L266.02 283.49 L266.37 281.61 L266.74 279.74 L267.12 277.90 L267.51 276.09 L267.93 274.31 L268.35 272.57 L268.79 270.88 L269.25 269.23 L269.72 267.64 L270.21 266.10 L270.71 264.62 L271.23 263.19 L271.76 261.82 L272.30 260.51 L272.86 259.26 L273.43 258.06 L274.02 256.91 L274.62 255.82 L275.24 254.78 L275.86 253.79 L276.51 252.85 L277.16 251.96 L277.83 251.11 L278.52 250.30 L279.21 249.53 L279.92 248.79 L280.65 248.09 L281.38 247.43 L282.13 246.79 L282.90 246.19 L283.67 245.61 L284.46 245.05 L285.26 244.52 L286.08 244.01 L286.91 243.53 L287.75 243.06 L288.60 242.61 L289.47 242.17 L290.35 241.76 L291.24 241.35 L292.14 240.96 L293.06 240.59 L293.99 240.22 L294.93 239.87 L295.89 239.53 L296.85 239.19 L297.83 238.87 L298.82 238.56 L299.83 238.26 L300.84 237.96 L301.87 237.68 L302.91 237.40 L303.96 237.13 L305.03 236.87 L306.10 236.62 L307.19 236.37 L308.29 236.13 L309.41 235.90 L310.53 235.67 L311.67 235.46 L312.82 235.24 L313.98 235.04 L315.15 234.84 L316.33 234.64 L317.53 234.46 L318.73 234.27 L319.95 234.10 L321.18 233.93 L322.43 233.77 L323.68 233.61 L324.94 233.45 L326.22 233.30 L327.51 233.16 L328.81 233.02 L330.12 232.89 L331.44 232.76 L332.78 232.64 L334.12 232.52 L335.48 232.40 L336.85 232.29 L338.23 232.19 L339.62 232.08 L341.02 231.99 L342.44 231.89 L343.86 231.80 L345.30 231.71 L346.74 231.63 L348.20 231.55 L349.67 231.47 L351.15 231.40 L352.65 231.33 L354.15 231.26 L355.66 231.20" fill="none" stroke="#2b2b2b" stroke-width="0.70" stroke-linejoin="round"/>
<path d="M262.80 303.77 L262.82 303.41 L262.87 302.54 L262.94 301.24 L263.04 299.58 L263.16 297.61 L263.29 295.38 L263.45 292.94 L263.63 290.33 L263.83 287.59 L264.04 284.76 L264.27 281.88 L264.52 278.99 L264.79 276.11 L265.07 273.28 L265.37 270.51 L265.69 267.82 L266.02 265.24 L266.37 262.78 L266.74 260.44 L267.12 258.23 L267.51 256.16 L267.93 254.22 L268.35 252.43 L268.79 250.76 L269.25 249.23 L269.72 247.82 L270.21 246.53 L270.71 245.35 L271.23 244.27 L271.76 243.29 L272.30 242.40 L272.86 241.59 L273.43 240.85 L274.02 240.18 L274.62 239.57 L275.24 239.01 L275.86 238.50 L276.51 238.04 L277.16 237.61 L277.83 237.22 L278.52 236.85 L279.21 236.52 L279.92 236.20 L280.65 235.91 L281.38 235.63 L282.13 235.37 L282.90 235.13 L283.67 234.90 L284.46 234.68 L285.26 234.48 L286.08 234.28 L286.91 234.09 L287.75 233.91 L288.60 233.74 L289.47 233.58 L290.35 233.43 L291.24 233.28 L292.14 233.13 L293.06 233.00 L293.99 232.87 L294.93 232.75 L295.89 232.63 L296.85 232.52 L297.83 232.41 L298.82 232.31 L299.83 232.21 L300.84 232.12 L301.87 232.03 L302.91 231.95 L303.96 231.87 L305.03 231.79 L306.10 231.72 L307.19 231.65 L308.29 231.59 L309.41 231.53 L310.53 231.47 L311.67 231.42 L312.82 231.37 L313.98 231.32 L315.15 231.27 L316.33 231.23 L317.53 231.19 L318.73 231.16 L319.95 231.12 L321.18 231.09 L322.43 231.06 L323.68 231.03 L324.94 231.00 L326.22 230.98 L327.51 230.95 L328.81 230.93 L330.12 230.91 L331.44 230.89 L332.78 230.88 L334.12 230.86 L335.48 230.84 L336.85 230.83 L338.23 230.82 L339.62 230.81 L341.02 230.79 L342.44 230.78 L343.86 230.77 L345.30 230.77 L346.74 230.76 L348.20 230.75 L349.67 230.74 L351.15 230.74 L352.65 230.73 L354.15 230.72 L355.66 230.72" fill="none" stroke="#4a90e2" stroke-width="0.75" stroke-linejoin="round"/>
<line x1="269.70" y1="296.30" x2="275.70" y2="296.30" stroke="#4a90e2" stroke-width="0.80" />
<text x="277.70" y="298.34" font-size="5.70" text-anchor="start" fill="#000" stroke="#000" >Down</text>
<line x1="269.70" y1="303.40" x2="275.70" y2="303.40" stroke="#2b2b2b" stroke-width="0.80" />
<text x="277.70" y="305.44" font-size="5.70" text-anchor="start" fill="#000" stroke="#000" >Unchanged</text>
<line x1="269.70" y1="310.10" x2="275.70" y2="310.10" stroke="#e26a6a" stroke-width="0.80" />
<text x="277.70" y="312.14" font-size="5.70" text-anchor="start" fill="#000" stroke="#000" >Up</text>
<path d="M309.10 294.70 h1.1 v8.2 h-1.1" fill="none" stroke="#000" stroke-width="0.70" />
<path d="M309.10 304.10 h1.1 v8.2 h-1.1" fill="none" stroke="#000" stroke-width="0.70" />
<text x="311.80" y="301.28" font-size="5.80" text-anchor="start" fill="#000" stroke="#000" >FDR 9.1e-35</text>
<text x="311.80" y="310.88" font-size="5.80" text-anchor="start" fill="#000" stroke="#000" >FDR 0.43</text>
<rect x="385.00" y="226.90" width="93.60" height="86.40" fill="none" stroke="#b5b5b5" stroke-width="0.6"/>
<line x1="383.70" y1="312.30" x2="385.00" y2="312.30" stroke="#666" stroke-width="0.50" />
<text x="382.60" y="313.83" font-size="6.50" text-anchor="end" fill="#000" stroke="#000" >0.0</text>
<line x1="383.70" y1="295.28" x2="385.00" y2="295.28" stroke="#666" stroke-width="0.50" />
<text x="382.60" y="296.81" font-size="6.50" text-anchor="end" fill="#000" stroke="#000" >0.2</text>
<line x1="383.70" y1="278.26" x2="385.00" y2="278.26" stroke="#666" stroke-width="0.50" />
<text x="382.60" y="279.79" font-size="6.50" text-anchor="end" fill="#000" stroke="#000" >0.4</text>
<line x1="383.70" y1="261.24" x2="385.00" y2="261.24" stroke="#666" stroke-width="0.50" />
<text x="382.60" y="262.77" font-size="6.50" text-anchor="end" fill="#000" stroke="#000" >0.6</text>
<line x1="383.70" y1="244.22" x2="385.00" y2="244.22" stroke="#666" stroke-width="0.50" />
<text x="382.60" y="245.75" font-size="6.50" text-anchor="end" fill="#000" stroke="#000" >0.8</text>
<line x1="383.70" y1="227.20" x2="385.00" y2="227.20" stroke="#666" stroke-width="0.50" />
<text x="382.60" y="228.73" font-size="6.50" text-anchor="end" fill="#000" stroke="#000" >1.0</text>
<line x1="385.30" y1="313.30" x2="385.30" y2="314.60" stroke="#666" stroke-width="0.50" />
<text x="385.30" y="320.83" font-size="6.50" text-anchor="middle" fill="#000" stroke="#000" >0</text>
<line x1="403.64" y1="313.30" x2="403.64" y2="314.60" stroke="#666" stroke-width="0.50" />
<text x="403.64" y="320.83" font-size="6.50" text-anchor="middle" fill="#000" stroke="#000" >20</text>
<line x1="421.98" y1="313.30" x2="421.98" y2="314.60" stroke="#666" stroke-width="0.50" />
<text x="421.98" y="320.83" font-size="6.50" text-anchor="middle" fill="#000" stroke="#000" >40</text>
<line x1="440.32" y1="313.30" x2="440.32" y2="314.60" stroke="#666" stroke-width="0.50" />
<text x="440.32" y="320.83" font-size="6.50" text-anchor="middle" fill="#000" stroke="#000" >60</text>
<line x1="458.66" y1="313.30" x2="458.66" y2="314.60" stroke="#666" stroke-width="0.50" />
<text x="458.66" y="320.83" font-size="6.50" text-anchor="middle" fill="#000" stroke="#000" >80</text>
<line x1="477.00" y1="313.30" x2="477.00" y2="314.60" stroke="#666" stroke-width="0.50" />
<text x="477.00" y="320.83" font-size="6.50" text-anchor="middle" fill="#000" stroke="#000" >100</text>
<text x="432.20" y="330.30" font-size="6.70" text-anchor="middle" fill="#000" stroke="#000" >Distance from TAD boundary (Kb)</text>
<text x="368.00" y="273.21" font-size="6.45" text-anchor="middle" fill="#000" stroke="#000" transform="rotate(-90 368.00 270.90)" >Fraction of changed genes</text>
<text x="435.20" y="222.96" font-size="6.60" text-anchor="middle" fill="#000" stroke="#000" font-style="italic" >Cp190<tspan dy="-2.38" font-size="3.50" font-style="normal" stroke="none">RNAi</tspan></text>
<path d="M385.30 306.34 L385.32 306.19 L385.37 305.81 L385.44 305.24 L385.54 304.50 L385.66 303.60 L385.80 302.57 L385.95 301.42 L386.13 300.15 L386.33 298.79 L386.54 297.33 L386.78 295.80 L387.03 294.20 L387.29 292.55 L387.58 290.85 L387.88 289.12 L388.20 287.37 L388.53 285.59 L388.88 283.82 L389.25 282.04 L389.63 280.27 L390.03 278.51 L390.44 276.77 L390.87 275.06 L391.31 273.38 L391.77 271.74 L392.25 270.13 L392.73 268.57 L393.24 267.05 L393.75 265.57 L394.29 264.14 L394.83 262.76 L395.39 261.43 L395.97 260.15 L396.56 258.92 L397.16 257.74 L397.78 256.61 L398.41 255.52 L399.05 254.49 L399.71 253.49 L400.38 252.54 L401.07 251.64 L401.77 250.78 L402.48 249.95 L403.20 249.16 L403.94 248.41 L404.70 247.70 L405.46 247.01 L406.24 246.36 L407.03 245.74 L407.84 245.14 L408.66 244.57 L409.49 244.03 L410.33 243.51 L411.19 243.01 L412.06 242.53 L412.94 242.08 L413.83 241.64 L414.74 241.21 L415.66 240.81 L416.59 240.42 L417.54 240.04 L418.49 239.68 L419.46 239.33 L420.45 239.00 L421.44 238.67 L422.45 238.36 L423.47 238.05 L424.50 237.76 L425.54 237.48 L426.60 237.20 L427.67 236.94 L428.75 236.68 L429.84 236.44 L430.94 236.20 L432.06 235.96 L433.19 235.74 L434.33 235.52 L435.48 235.31 L436.64 235.11 L437.82 234.91 L439.01 234.72 L440.21 234.54 L441.42 234.36 L442.64 234.18 L443.87 234.02 L445.12 233.86 L446.38 233.70 L447.65 233.55 L448.93 233.41 L450.22 233.27 L451.53 233.13 L452.84 233.00 L454.17 232.88 L455.51 232.76 L456.86 232.64 L458.22 232.53 L459.59 232.42 L460.98 232.32 L462.37 232.22 L463.78 232.12 L465.20 232.03 L466.63 231.94 L468.07 231.86 L469.52 231.78 L470.98 231.70 L472.46 231.62 L473.94 231.55 L475.44 231.48 L476.95 231.42 L478.47 231.36" fill="none" stroke="#e05a5a" stroke-width="0.70" stroke-linejoin="round"/>
<path d="M385.30 306.34 L385.32 306.17 L385.37 305.73 L385.44 305.09 L385.54 304.25 L385.66 303.25 L385.80 302.09 L385.95 300.79 L386.13 299.38 L386.33 297.86 L386.54 296.25 L386.78 294.56 L387.03 292.81 L387.29 291.01 L387.58 289.17 L387.88 287.31 L388.20 285.44 L388.53 283.56 L388.88 281.68 L389.25 279.82 L389.63 277.98 L390.03 276.17 L390.44 274.40 L390.87 272.66 L391.31 270.98 L391.77 269.34 L392.25 267.75 L392.73 266.21 L393.24 264.73 L393.75 263.31 L394.29 261.94 L394.83 260.63 L395.39 259.38 L395.97 258.19 L396.56 257.04 L397.16 255.96 L397.78 254.92 L398.41 253.93 L399.05 252.99 L399.71 252.10 L400.38 251.25 L401.07 250.44 L401.77 249.67 L402.48 248.94 L403.20 248.24 L403.94 247.58 L404.70 246.95 L405.46 246.34 L406.24 245.76 L407.03 245.21 L407.84 244.68 L408.66 244.18 L409.49 243.69 L410.33 243.22 L411.19 242.77 L412.06 242.34 L412.94 241.92 L413.83 241.52 L414.74 241.13 L415.66 240.75 L416.59 240.39 L417.54 240.04 L418.49 239.70 L419.46 239.37 L420.45 239.05 L421.44 238.73 L422.45 238.43 L423.47 238.14 L424.50 237.85 L425.54 237.58 L426.60 237.31 L427.67 237.05 L428.75 236.80 L429.84 236.55 L430.94 236.31 L432.06 236.08 L433.19 235.85 L434.33 235.64 L435.48 235.42 L436.64 235.22 L437.82 235.02 L439.01 234.83 L440.21 234.64 L441.42 234.46 L442.64 234.28 L443.87 234.11 L445.12 233.95 L446.38 233.79 L447.65 233.64 L448.93 233.49 L450.22 233.35 L451.53 233.21 L452.84 233.08 L454.17 232.95 L455.51 232.82 L456.86 232.70 L458.22 232.59 L459.59 232.48 L460.98 232.37 L462.37 232.27 L463.78 232.17 L465.20 232.08 L466.63 231.99 L468.07 231.90 L469.52 231.82 L470.98 231.74 L472.46 231.66 L473.94 231.59 L475.44 231.52 L476.95 231.45 L478.47 231.39" fill="none" stroke="#2b2b2b" stroke-width="0.70" stroke-linejoin="round"/>
<path d="M385.30 303.79 L385.32 303.40 L385.37 302.43 L385.44 301.00 L385.54 299.18 L385.66 297.03 L385.80 294.60 L385.95 291.94 L386.13 289.11 L386.33 286.17 L386.54 283.14 L386.78 280.08 L387.03 277.02 L387.29 274.00 L387.58 271.05 L387.88 268.18 L388.20 265.43 L388.53 262.81 L388.88 260.33 L389.25 257.99 L389.63 255.81 L390.03 253.78 L390.44 251.91 L390.87 250.18 L391.31 248.60 L391.77 247.16 L392.25 245.86 L392.73 244.67 L393.24 243.60 L393.75 242.63 L394.29 241.75 L394.83 240.97 L395.39 240.26 L395.97 239.62 L396.56 239.04 L397.16 238.52 L397.78 238.04 L398.41 237.61 L399.05 237.21 L399.71 236.85 L400.38 236.52 L401.07 236.21 L401.77 235.93 L402.48 235.66 L403.20 235.41 L403.94 235.17 L404.70 234.95 L405.46 234.74 L406.24 234.54 L407.03 234.35 L407.84 234.17 L408.66 234.00 L409.49 233.84 L410.33 233.68 L411.19 233.53 L412.06 233.38 L412.94 233.25 L413.83 233.11 L414.74 232.99 L415.66 232.87 L416.59 232.75 L417.54 232.64 L418.49 232.53 L419.46 232.43 L420.45 232.34 L421.44 232.25 L422.45 232.16 L423.47 232.08 L424.50 232.00 L425.54 231.92 L426.60 231.85 L427.67 231.78 L428.75 231.72 L429.84 231.66 L430.94 231.60 L432.06 231.55 L433.19 231.50 L434.33 231.45 L435.48 231.40 L436.64 231.36 L437.82 231.32 L439.01 231.28 L440.21 231.25 L441.42 231.21 L442.64 231.18 L443.87 231.15 L445.12 231.12 L446.38 231.10 L447.65 231.07 L448.93 231.05 L450.22 231.03 L451.53 231.01 L452.84 230.99 L454.17 230.98 L455.51 230.96 L456.86 230.95 L458.22 230.93 L459.59 230.92 L460.98 230.91 L462.37 230.90 L463.78 230.89 L465.20 230.88 L466.63 230.87 L468.07 230.86 L469.52 230.85 L470.98 230.85 L472.46 230.84 L473.94 230.84 L475.44 230.83 L476.95 230.83 L478.47 230.82" fill="none" stroke="#4a90e2" stroke-width="0.75" stroke-linejoin="round"/>
<line x1="392.20" y1="296.30" x2="398.20" y2="296.30" stroke="#4a90e2" stroke-width="0.80" />
<text x="400.20" y="298.34" font-size="5.70" text-anchor="start" fill="#000" stroke="#000" >Down</text>
<line x1="392.20" y1="303.40" x2="398.20" y2="303.40" stroke="#2b2b2b" stroke-width="0.80" />
<text x="400.20" y="305.44" font-size="5.70" text-anchor="start" fill="#000" stroke="#000" >Unchanged</text>
<line x1="392.20" y1="310.10" x2="398.20" y2="310.10" stroke="#e26a6a" stroke-width="0.80" />
<text x="400.20" y="312.14" font-size="5.70" text-anchor="start" fill="#000" stroke="#000" >Up</text>
<path d="M431.80 294.70 h1.1 v8.2 h-1.1" fill="none" stroke="#000" stroke-width="0.70" />
<path d="M431.80 304.10 h1.1 v8.2 h-1.1" fill="none" stroke="#000" stroke-width="0.70" />
<text x="434.50" y="301.28" font-size="5.80" text-anchor="start" fill="#000" stroke="#000" >FDR 1.3e-80</text>
<text x="434.50" y="310.88" font-size="5.80" text-anchor="start" fill="#000" stroke="#000" >FDR 0.33</text>
<rect x="367.50" y="348.40" width="108.10" height="9.70" stroke="#222" stroke-width="0.6" fill="none"/>
<rect x="260.00" y="358.10" width="215.60" height="48.50" stroke="#222" stroke-width="0.6" fill="none"/>
<line x1="313.80" y1="358.10" x2="313.80" y2="406.60" stroke="#222" stroke-width="0.60" />
<line x1="367.50" y1="358.10" x2="367.50" y2="406.60" stroke="#222" stroke-width="0.60" />
<line x1="421.30" y1="358.10" x2="421.30" y2="406.60" stroke="#222" stroke-width="0.60" />
<line x1="260.00" y1="367.80" x2="475.60" y2="367.80" stroke="#222" stroke-width="0.60" />
<line x1="260.00" y1="387.20" x2="475.60" y2="387.20" stroke="#222" stroke-width="0.60" />
<line x1="313.80" y1="377.50" x2="475.60" y2="377.50" stroke="#222" stroke-width="0.60" />
<line x1="313.80" y1="396.90" x2="475.60" y2="396.90" stroke="#222" stroke-width="0.60" />
<text x="421.55" y="355.78" font-size="6.50" text-anchor="middle" fill="#000" stroke="#000" >Median distance (Kb)</text>
<text x="286.90" y="365.48" font-size="6.50" text-anchor="middle" fill="#000" stroke="#000" >Knockdown</text>
<text x="340.65" y="365.48" font-size="6.50" text-anchor="middle" fill="#000" stroke="#000" >Gene changes</text>
<text x="394.40" y="365.48" font-size="6.50" text-anchor="middle" fill="#000" stroke="#000" >Affected</text>
<text x="448.45" y="365.48" font-size="6.50" text-anchor="middle" fill="#000" stroke="#000" >Unchanged</text>
<text x="287.90" y="380.23" font-size="6.50" text-anchor="middle" fill="#000" stroke="#000" font-style="italic" >M1BP<tspan dy="-2.34" font-size="3.60" font-style="normal" stroke="none">RNAi</tspan></text>
<text x="287.90" y="399.63" font-size="6.50" text-anchor="middle" fill="#000" stroke="#000" font-style="italic" >Cp190<tspan dy="-2.34" font-size="3.60" font-style="normal" stroke="none">RNAi</tspan></text>
<text x="340.65" y="375.18" font-size="6.50" text-anchor="middle" fill="#2f6fd0" stroke="#2f6fd0" >Down</text>
<text x="394.40" y="375.18" font-size="6.50" text-anchor="middle" fill="#000" stroke="#000" >2.9</text>
<text x="448.45" y="375.18" font-size="6.50" text-anchor="middle" fill="#000" stroke="#000" >6.6</text>
<text x="340.65" y="384.88" font-size="6.50" text-anchor="middle" fill="#e02020" stroke="#e02020" >Up</text>
<text x="394.40" y="384.88" font-size="6.50" text-anchor="middle" fill="#000" stroke="#000" >6.7</text>
<text x="448.45" y="384.88" font-size="6.50" text-anchor="middle" fill="#000" stroke="#000" >6.6</text>
<text x="340.65" y="394.58" font-size="6.50" text-anchor="middle" fill="#2f6fd0" stroke="#2f6fd0" >Down</text>
<text x="394.40" y="394.58" font-size="6.50" text-anchor="middle" fill="#000" stroke="#000" >3.0</text>
<text x="448.45" y="394.58" font-size="6.50" text-anchor="middle" fill="#000" stroke="#000" >6.8</text>
<text x="340.65" y="404.28" font-size="6.50" text-anchor="middle" fill="#e02020" stroke="#e02020" >Up</text>
<text x="394.40" y="404.28" font-size="6.50" text-anchor="middle" fill="#000" stroke="#000" >7.0</text>
<text x="448.45" y="404.28" font-size="6.50" text-anchor="middle" fill="#000" stroke="#000" >6.8</text>
</g>
<g id="panelF">
<text x="500.10" y="202.60" font-size="11.50" font-weight="bold" fill="#000">f</text>
<line x1="539.80" y1="212.60" x2="539.80" y2="326.30" stroke="#000" stroke-width="0.90" />
<line x1="537.40" y1="212.80" x2="539.80" y2="212.80" stroke="#000" stroke-width="0.80" />
<text x="536.40" y="215.23" font-size="6.80" text-anchor="end" fill="#000" stroke="#000" >6</text>
<line x1="537.40" y1="243.22" x2="539.80" y2="243.22" stroke="#000" stroke-width="0.80" />
<text x="536.40" y="245.65" font-size="6.80" text-anchor="end" fill="#000" stroke="#000" >3</text>
<line x1="537.40" y1="263.50" x2="539.80" y2="263.50" stroke="#000" stroke-width="0.80" />
<text x="536.40" y="265.93" font-size="6.80" text-anchor="end" fill="#000" stroke="#000" >1</text>
<line x1="537.40" y1="294.70" x2="539.80" y2="294.70" stroke="#000" stroke-width="0.80" />
<text x="536.40" y="297.13" font-size="6.80" text-anchor="end" fill="#000" stroke="#000" >0.5</text>
<line x1="537.40" y1="325.90" x2="539.80" y2="325.90" stroke="#000" stroke-width="0.80" />
<text x="536.40" y="328.33" font-size="6.80" text-anchor="end" fill="#000" stroke="#000" >0.0</text>
<rect x="539.20" y="262.30" width="1.20" height="2.60" fill="#fff" />
<line x1="537.00" y1="264.70" x2="542.60" y2="260.50" stroke="#000" stroke-width="0.80" />
<line x1="537.00" y1="266.70" x2="542.60" y2="262.50" stroke="#000" stroke-width="0.80" />
<text x="521.00" y="274.56" font-size="6.60" text-anchor="middle" fill="#000" stroke="#000" transform="rotate(-90 521.00 272.20)" >% of input</text>
<rect x="543.40" y="323.40" width="3.15" height="2.50" fill="#4270c6" />
<rect x="547.35" y="324.03" width="3.15" height="1.87" fill="#ed7d31" />
<rect x="551.30" y="325.15" width="3.15" height="0.75" fill="#a5a5a5" />
<line x1="543.00" y1="327.40" x2="554.80" y2="327.40" stroke="#000" stroke-width="0.80" />
<text x="550.70" y="332.60" font-size="6.1" stroke="none" fill="#1a1a1a" text-anchor="end" transform="rotate(-45 550.70 328.50)">Serum</text>
<rect x="556.10" y="245.05" width="3.15" height="80.85" fill="#4270c6" />
<rect x="560.05" y="322.97" width="3.15" height="2.93" fill="#ed7d31" />
<rect x="564.00" y="321.22" width="3.15" height="4.68" fill="#a5a5a5" />
<line x1="555.70" y1="327.40" x2="567.50" y2="327.40" stroke="#000" stroke-width="0.80" />
<text x="563.40" y="332.60" font-size="6.1" stroke="none" fill="#1a1a1a" text-anchor="end" transform="rotate(-45 563.40 328.50)">M1BP</text>
<rect x="568.80" y="230.75" width="3.15" height="95.15" fill="#4270c6" />
<rect x="572.75" y="285.34" width="3.15" height="40.56" fill="#ed7d31" />
<rect x="576.70" y="321.22" width="3.15" height="4.68" fill="#a5a5a5" />
<line x1="568.40" y1="327.40" x2="580.20" y2="327.40" stroke="#000" stroke-width="0.80" />
<text x="576.10" y="332.60" font-size="6.1" stroke="none" fill="#1a1a1a" text-anchor="end" transform="rotate(-45 576.10 328.50)">CP190</text>
<rect x="581.50" y="219.59" width="3.15" height="106.31" fill="#4270c6" />
<rect x="585.45" y="318.72" width="3.15" height="7.18" fill="#ed7d31" />
<rect x="589.40" y="324.03" width="3.15" height="1.87" fill="#a5a5a5" />
<line x1="581.10" y1="327.40" x2="592.90" y2="327.40" stroke="#000" stroke-width="0.80" />
<text x="588.80" y="332.60" font-size="6.1" stroke="none" fill="#1a1a1a" text-anchor="end" transform="rotate(-45 588.80 328.50)">Su(Hw)</text>
<rect x="594.20" y="231.86" width="3.15" height="94.04" fill="#4270c6" />
<rect x="598.15" y="324.03" width="3.15" height="1.87" fill="#ed7d31" />
<rect x="602.10" y="325.15" width="3.15" height="0.75" fill="#a5a5a5" />
<line x1="593.80" y1="327.40" x2="605.60" y2="327.40" stroke="#000" stroke-width="0.80" />
<text x="601.50" y="332.60" font-size="6.1" stroke="none" fill="#1a1a1a" text-anchor="end" transform="rotate(-45 601.50 328.50)">Mod</text>
<text x="571.34" y="354.91" font-size="7.00" text-anchor="middle" fill="#111" stroke="#111" font-style="italic" style="stroke-width:0.04px">gypsy</text>
<rect x="613.30" y="324.46" width="3.15" height="1.44" fill="#4270c6" />
<rect x="617.25" y="325.28" width="3.15" height="0.62" fill="#ed7d31" />
<rect x="621.20" y="324.96" width="3.15" height="0.94" fill="#a5a5a5" />
<line x1="612.90" y1="327.40" x2="624.70" y2="327.40" stroke="#000" stroke-width="0.80" />
<text x="620.60" y="332.60" font-size="6.1" stroke="none" fill="#1a1a1a" text-anchor="end" transform="rotate(-45 620.60 328.50)">Serum</text>
<rect x="626.00" y="323.40" width="3.15" height="2.50" fill="#4270c6" />
<rect x="629.95" y="324.03" width="3.15" height="1.87" fill="#ed7d31" />
<rect x="633.90" y="324.96" width="3.15" height="0.94" fill="#a5a5a5" />
<line x1="625.60" y1="327.40" x2="637.40" y2="327.40" stroke="#000" stroke-width="0.80" />
<text x="633.30" y="332.60" font-size="6.1" stroke="none" fill="#1a1a1a" text-anchor="end" transform="rotate(-45 633.30 328.50)">M1BP</text>
<rect x="638.70" y="323.09" width="3.15" height="2.81" fill="#4270c6" />
<rect x="642.65" y="324.34" width="3.15" height="1.56" fill="#ed7d31" />
<rect x="646.60" y="324.96" width="3.15" height="0.94" fill="#a5a5a5" />
<line x1="638.30" y1="327.40" x2="650.10" y2="327.40" stroke="#000" stroke-width="0.80" />
<text x="646.00" y="332.60" font-size="6.1" stroke="none" fill="#1a1a1a" text-anchor="end" transform="rotate(-45 646.00 328.50)">CP190</text>
<rect x="651.40" y="325.53" width="3.15" height="0.37" fill="#4270c6" fill-opacity="0.35"/>
<rect x="655.35" y="325.53" width="3.15" height="0.37" fill="#ed7d31" fill-opacity="0.35"/>
<rect x="659.30" y="325.53" width="3.15" height="0.37" fill="#a5a5a5" fill-opacity="0.35"/>
<line x1="651.00" y1="327.40" x2="662.80" y2="327.40" stroke="#000" stroke-width="0.80" />
<text x="658.70" y="332.60" font-size="6.1" stroke="none" fill="#1a1a1a" text-anchor="end" transform="rotate(-45 658.70 328.50)">Su(Hw)</text>
<rect x="664.10" y="325.53" width="3.15" height="0.37" fill="#4270c6" fill-opacity="0.35"/>
<rect x="668.05" y="325.53" width="3.15" height="0.37" fill="#ed7d31" fill-opacity="0.35"/>
<rect x="672.00" y="325.65" width="3.15" height="0.25" fill="#a5a5a5" fill-opacity="0.35"/>
<line x1="663.70" y1="327.40" x2="675.50" y2="327.40" stroke="#000" stroke-width="0.80" />
<text x="671.40" y="332.60" font-size="6.1" stroke="none" fill="#1a1a1a" text-anchor="end" transform="rotate(-45 671.40 328.50)">Mod</text>
<text x="641.24" y="354.91" font-size="7.00" text-anchor="middle" fill="#111" stroke="#111" font-style="italic" style="stroke-width:0.04px">TART</text>
<rect x="543.00" y="262.70" width="67.00" height="1.10" fill="#fff" />
<rect x="641.80" y="210.50" width="3.30" height="3.30" fill="#4270c6" />
<text x="646.10" y="214.28" font-size="5.80" text-anchor="start" fill="#000" stroke="#000" >Mock</text>
<rect x="641.80" y="216.50" width="3.30" height="3.30" fill="#e8601c" />
<text x="646.10" y="220.48" font-size="5.80" text-anchor="start" fill="#000" stroke="#000" font-style="italic" >M1BP<tspan dy="-2.09" font-size="3.10" font-style="normal" stroke="none">RNAi</tspan></text>
<rect x="641.80" y="223.20" width="3.30" height="3.30" fill="#a5a5a5" />
<text x="646.10" y="226.98" font-size="5.80" text-anchor="start" fill="#000" stroke="#000" font-style="italic" >Cp190<tspan dy="-2.09" font-size="3.10" font-style="normal" stroke="none">RNAi</tspan></text>
</g>
</svg></body></html>
